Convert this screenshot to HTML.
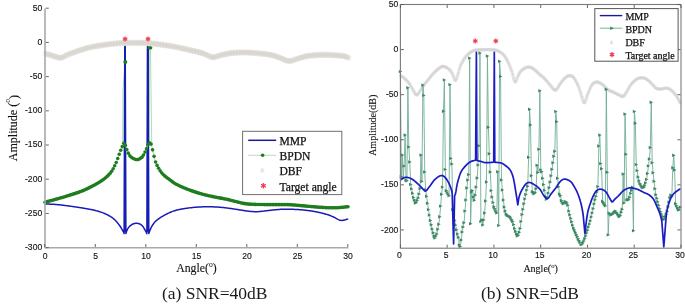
<!DOCTYPE html>
<html><head><meta charset="utf-8"><style>
html,body{margin:0;padding:0;background:#fff;}
svg{display:block;will-change:transform;}
text{stroke:#111;stroke-width:0.12px;}
.lg text{stroke-width:0.25px;}
.cap text{stroke:none;}
</style></head><body>
<svg width="685" height="304" viewBox="0 0 685 304">
<rect width="685" height="304" fill="#fff"/>
<path d="M122.6,143 L123.0,90 L125.2,62.2 L125.6,146 M149.2,143 L149.8,47.8 L150.4,47.8 L151.8,146" stroke="#a8d8a8" stroke-width="0.9" fill="none"/>
<path d="M45.00,203.90 L45.70,203.94 L46.40,203.98 L47.10,204.01 L47.80,204.04 L48.50,204.08 L49.20,204.11 L49.90,204.14 L50.60,204.17 L51.30,204.21 L52.00,204.24 L52.70,204.28 L53.40,204.32 L54.10,204.36 L54.80,204.41 L55.50,204.46 L56.20,204.51 L56.90,204.57 L57.60,204.64 L58.30,204.70 L59.00,204.77 L59.70,204.85 L60.40,204.93 L61.10,205.00 L61.80,205.09 L62.50,205.17 L63.20,205.26 L63.90,205.34 L64.60,205.43 L65.30,205.52 L66.00,205.62 L66.70,205.71 L67.40,205.80 L68.10,205.90 L68.80,205.99 L69.50,206.09 L70.20,206.19 L70.90,206.28 L71.60,206.38 L72.30,206.48 L73.00,206.57 L73.70,206.67 L74.40,206.77 L75.10,206.87 L75.80,206.97 L76.50,207.08 L77.20,207.18 L77.90,207.29 L78.60,207.40 L79.30,207.50 L80.00,207.62 L80.70,207.73 L81.40,207.84 L82.10,207.96 L82.80,208.08 L83.50,208.20 L84.20,208.32 L84.90,208.44 L85.60,208.56 L86.30,208.68 L87.00,208.80 L87.70,208.92 L88.40,209.04 L89.10,209.16 L89.80,209.29 L90.50,209.42 L91.20,209.56 L91.90,209.70 L92.60,209.84 L93.30,209.99 L94.00,210.15 L94.70,210.31 L95.40,210.48 L96.10,210.67 L96.80,210.86 L97.50,211.05 L98.20,211.25 L98.90,211.46 L99.60,211.68 L100.30,211.90 L101.00,212.14 L101.70,212.38 L102.40,212.63 L103.10,212.90 L103.80,213.17 L104.50,213.46 L105.20,213.76 L105.90,214.08 L106.60,214.41 L107.30,214.75 L108.00,215.11 L108.70,215.49 L109.40,215.89 L110.10,216.31 L110.80,216.75 L111.50,217.22 L112.20,217.72 L112.90,218.24 L113.60,218.80 L114.30,219.38 L115.00,220.00 L115.70,220.68 L116.40,221.44 L117.10,222.28 L117.80,223.17 L118.50,224.10 L119.20,225.06 L119.90,226.04 L120.60,227.03 L121.30,228.12 L122.00,229.29 L122.70,230.52 L123.40,231.80 L124.10,233.60 L124.80,46.30 L125.20,46.30 L125.90,233.60 L126.60,231.28 L127.30,229.59 L128.00,228.37 L128.70,227.37 L129.40,226.55 L130.10,225.87 L130.80,225.30 L131.50,224.80 L132.20,224.37 L132.90,224.01 L133.60,223.73 L134.30,223.52 L135.00,223.38 L135.70,223.32 L136.40,223.30 L137.10,223.32 L137.80,223.40 L138.50,223.55 L139.20,223.77 L139.90,224.05 L140.60,224.39 L141.30,224.85 L142.00,225.45 L142.70,226.23 L143.40,227.16 L144.10,228.29 L144.80,229.62 L145.50,230.94 L146.20,232.27 L146.90,233.60 L147.60,46.30 L148.10,46.30 L148.80,233.60 L149.50,231.62 L150.20,229.74 L150.90,228.13 L151.60,226.71 L152.30,225.51 L153.00,224.45 L153.70,223.49 L154.40,222.62 L155.10,221.83 L155.80,221.11 L156.50,220.47 L157.20,219.88 L157.90,219.34 L158.60,218.82 L159.30,218.32 L160.00,217.85 L160.70,217.39 L161.40,216.96 L162.10,216.54 L162.80,216.13 L163.50,215.74 L164.20,215.34 L164.90,214.96 L165.60,214.59 L166.30,214.22 L167.00,213.86 L167.70,213.51 L168.40,213.18 L169.10,212.85 L169.80,212.53 L170.50,212.23 L171.20,211.94 L171.90,211.67 L172.60,211.41 L173.30,211.16 L174.00,210.92 L174.70,210.70 L175.40,210.48 L176.10,210.28 L176.80,210.09 L177.50,209.92 L178.20,209.76 L178.90,209.61 L179.60,209.48 L180.30,209.34 L181.00,209.21 L181.70,209.09 L182.40,208.96 L183.10,208.84 L183.80,208.72 L184.50,208.60 L185.20,208.48 L185.90,208.37 L186.60,208.26 L187.30,208.16 L188.00,208.06 L188.70,207.96 L189.40,207.87 L190.10,207.79 L190.80,207.71 L191.50,207.63 L192.20,207.56 L192.90,207.49 L193.60,207.42 L194.30,207.36 L195.00,207.30 L195.70,207.24 L196.40,207.19 L197.10,207.13 L197.80,207.09 L198.50,207.04 L199.20,207.00 L199.90,206.96 L200.60,206.92 L201.30,206.89 L202.00,206.86 L202.70,206.83 L203.40,206.81 L204.10,206.79 L204.80,206.78 L205.50,206.78 L206.20,206.77 L206.90,206.77 L207.60,206.77 L208.30,206.78 L209.00,206.79 L209.70,206.80 L210.40,206.81 L211.10,206.82 L211.80,206.83 L212.50,206.85 L213.20,206.87 L213.90,206.89 L214.60,206.92 L215.30,206.95 L216.00,206.98 L216.70,207.01 L217.40,207.05 L218.10,207.10 L218.80,207.15 L219.50,207.20 L220.20,207.26 L220.90,207.32 L221.60,207.39 L222.30,207.46 L223.00,207.53 L223.70,207.61 L224.40,207.69 L225.10,207.77 L225.80,207.86 L226.50,207.94 L227.20,208.03 L227.90,208.12 L228.60,208.21 L229.30,208.31 L230.00,208.40 L230.70,208.50 L231.40,208.59 L232.10,208.70 L232.80,208.80 L233.50,208.91 L234.20,209.01 L234.90,209.12 L235.60,209.23 L236.30,209.34 L237.00,209.46 L237.70,209.57 L238.40,209.68 L239.10,209.79 L239.80,209.89 L240.50,210.00 L241.20,210.11 L241.90,210.22 L242.60,210.33 L243.30,210.45 L244.00,210.57 L244.70,210.68 L245.40,210.80 L246.10,210.91 L246.80,211.01 L247.50,211.11 L248.20,211.21 L248.90,211.29 L249.60,211.36 L250.30,211.43 L251.00,211.48 L251.70,211.53 L252.40,211.57 L253.10,211.61 L253.80,211.64 L254.50,211.66 L255.20,211.67 L255.90,211.68 L256.60,211.67 L257.30,211.66 L258.00,211.64 L258.70,211.61 L259.40,211.56 L260.10,211.51 L260.80,211.44 L261.50,211.37 L262.20,211.29 L262.90,211.21 L263.60,211.12 L264.30,211.02 L265.00,210.93 L265.70,210.83 L266.40,210.73 L267.10,210.64 L267.80,210.55 L268.50,210.46 L269.20,210.38 L269.90,210.31 L270.60,210.24 L271.30,210.17 L272.00,210.10 L272.70,210.04 L273.40,209.97 L274.10,209.90 L274.80,209.83 L275.50,209.77 L276.20,209.70 L276.90,209.64 L277.60,209.58 L278.30,209.53 L279.00,209.47 L279.70,209.42 L280.40,209.37 L281.10,209.33 L281.80,209.29 L282.50,209.25 L283.20,209.22 L283.90,209.19 L284.60,209.17 L285.30,209.16 L286.00,209.15 L286.70,209.15 L287.40,209.16 L288.10,209.17 L288.80,209.18 L289.50,209.20 L290.20,209.22 L290.90,209.24 L291.60,209.26 L292.30,209.29 L293.00,209.32 L293.70,209.35 L294.40,209.38 L295.10,209.40 L295.80,209.43 L296.50,209.47 L297.20,209.50 L297.90,209.54 L298.60,209.59 L299.30,209.63 L300.00,209.69 L300.70,209.74 L301.40,209.80 L302.10,209.87 L302.80,209.94 L303.50,210.01 L304.20,210.09 L304.90,210.17 L305.60,210.25 L306.30,210.33 L307.00,210.41 L307.70,210.49 L308.40,210.58 L309.10,210.67 L309.80,210.76 L310.50,210.86 L311.20,210.96 L311.90,211.07 L312.60,211.18 L313.30,211.29 L314.00,211.42 L314.70,211.54 L315.40,211.68 L316.10,211.81 L316.80,211.96 L317.50,212.10 L318.20,212.25 L318.90,212.41 L319.60,212.56 L320.30,212.73 L321.00,212.89 L321.70,213.06 L322.40,213.24 L323.10,213.42 L323.80,213.60 L324.50,213.79 L325.20,213.98 L325.90,214.18 L326.60,214.38 L327.30,214.59 L328.00,214.81 L328.70,215.05 L329.40,215.30 L330.10,215.56 L330.80,215.84 L331.50,216.12 L332.20,216.42 L332.90,216.72 L333.60,217.02 L334.30,217.34 L335.00,217.71 L335.70,218.11 L336.40,218.53 L337.10,218.94 L337.80,219.31 L338.50,219.63 L339.20,219.92 L339.90,220.17 L340.60,220.34 L341.30,220.42 L342.00,220.41 L342.70,220.34 L343.40,220.22 L344.10,220.08 L344.80,219.93 L345.50,219.76 L346.20,219.55 L346.90,219.33 L347.60,219.11 L348.30,218.90" fill="none" stroke="#1a1ab8" stroke-width="1.5" stroke-linejoin="round"/>
<path d="M125.0,232V47M147.85,232V47" stroke="#1420b0" stroke-width="2"/>
<path d="M45.00,202.20 L45.70,202.01 L46.40,201.82 L47.10,201.64 L47.80,201.45 L48.50,201.26 L49.20,201.08 L49.90,200.89 L50.60,200.70 L51.30,200.52 L52.00,200.33 L52.70,200.14 L53.40,199.95 L54.10,199.76 L54.80,199.57 L55.50,199.38 L56.20,199.18 L56.90,198.99 L57.60,198.79 L58.30,198.59 L59.00,198.39 L59.70,198.19 L60.40,197.99 L61.10,197.78 L61.80,197.58 L62.50,197.38 L63.20,197.17 L63.90,196.97 L64.60,196.76 L65.30,196.55 L66.00,196.34 L66.70,196.13 L67.40,195.91 L68.10,195.70 L68.80,195.48 L69.50,195.26 L70.20,195.03 L70.90,194.81 L71.60,194.58 L72.30,194.36 L73.00,194.14 L73.70,193.91 L74.40,193.69 L75.10,193.46 L75.80,193.23 L76.50,193.00 L77.20,192.77 L77.90,192.53 L78.60,192.29 L79.30,192.04 L80.00,191.78 L80.70,191.52 L81.40,191.25 L82.10,190.98 L82.80,190.69 L83.50,190.40 L84.20,190.10 L84.90,189.79 L85.60,189.47 L86.30,189.15 L87.00,188.82 L87.70,188.49 L88.40,188.15 L89.10,187.80 L89.80,187.45 L90.50,187.09 L91.20,186.73 L91.90,186.36 L92.60,185.99 L93.30,185.62 L94.00,185.24 L94.70,184.86 L95.40,184.47 L96.10,184.08 L96.80,183.69 L97.50,183.29 L98.20,182.89 L98.90,182.47 L99.60,182.05 L100.30,181.61 L101.00,181.16 L101.70,180.69 L102.40,180.20 L103.10,179.69 L103.80,179.16 L104.50,178.60 L105.20,178.03 L105.90,177.45 L106.60,176.84 L107.30,176.22 L108.00,175.55 L108.70,174.85 L109.40,174.09 L110.10,173.28 L110.80,172.40 L111.50,171.44 L112.20,170.37 L112.90,169.19 L113.60,167.92 L114.30,166.57 L115.00,165.15 L115.70,163.66 L116.40,162.07 L117.10,160.25 L117.80,158.28 L118.50,156.27 L119.20,154.30 L119.90,152.46 L120.60,150.64 L121.30,148.87 L122.00,147.20 L122.70,145.59 L123.40,143.94 L124.10,143.17 L124.80,144.05 L125.50,145.93 L126.20,147.95 L126.90,149.70 L127.60,151.50 L128.30,153.11 L129.00,154.40 L129.70,155.53 L130.40,156.44 L131.10,157.07 L131.80,157.56 L132.50,158.01 L133.20,158.41 L133.90,158.76 L134.60,159.06 L135.30,159.30 L136.00,159.48 L136.70,159.59 L137.40,159.60 L138.10,159.48 L138.80,159.24 L139.50,158.91 L140.20,158.51 L140.90,158.07 L141.60,157.51 L142.30,156.75 L143.00,155.80 L143.70,154.70 L144.40,153.35 L145.10,151.86 L145.80,150.35 L146.50,148.73 L147.20,146.90 L147.90,144.77 L148.60,143.30 L149.30,142.91 L150.00,143.03 L150.70,143.62 L151.40,144.71 L152.10,147.58 L152.80,150.86 L153.50,153.87 L154.20,156.87 L154.90,159.97 L155.60,162.05 L156.30,163.68 L157.00,165.17 L157.70,166.55 L158.40,167.83 L159.10,169.03 L159.80,170.17 L160.50,171.22 L161.20,172.19 L161.90,173.07 L162.60,173.87 L163.30,174.60 L164.00,175.27 L164.70,175.89 L165.40,176.48 L166.10,177.04 L166.80,177.57 L167.50,178.09 L168.20,178.60 L168.90,179.11 L169.60,179.63 L170.30,180.15 L171.00,180.69 L171.70,181.22 L172.40,181.75 L173.10,182.26 L173.80,182.76 L174.50,183.23 L175.20,183.68 L175.90,184.08 L176.60,184.46 L177.30,184.81 L178.00,185.16 L178.70,185.50 L179.40,185.83 L180.10,186.15 L180.80,186.47 L181.50,186.78 L182.20,187.09 L182.90,187.39 L183.60,187.68 L184.30,187.97 L185.00,188.25 L185.70,188.53 L186.40,188.81 L187.10,189.08 L187.80,189.35 L188.50,189.62 L189.20,189.89 L189.90,190.15 L190.60,190.41 L191.30,190.66 L192.00,190.91 L192.70,191.16 L193.40,191.40 L194.10,191.63 L194.80,191.86 L195.50,192.09 L196.20,192.32 L196.90,192.54 L197.60,192.75 L198.30,192.97 L199.00,193.17 L199.70,193.38 L200.40,193.58 L201.10,193.78 L201.80,193.98 L202.50,194.17 L203.20,194.36 L203.90,194.55 L204.60,194.73 L205.30,194.90 L206.00,195.07 L206.70,195.24 L207.40,195.40 L208.10,195.56 L208.80,195.72 L209.50,195.87 L210.20,196.02 L210.90,196.17 L211.60,196.32 L212.30,196.47 L213.00,196.61 L213.70,196.76 L214.40,196.91 L215.10,197.05 L215.80,197.20 L216.50,197.34 L217.20,197.48 L217.90,197.62 L218.60,197.75 L219.30,197.88 L220.00,198.00 L220.70,198.13 L221.40,198.25 L222.10,198.38 L222.80,198.51 L223.50,198.64 L224.20,198.77 L224.90,198.91 L225.60,199.05 L226.30,199.20 L227.00,199.36 L227.70,199.52 L228.40,199.69 L229.10,199.86 L229.80,200.03 L230.50,200.21 L231.20,200.39 L231.90,200.57 L232.60,200.76 L233.30,200.94 L234.00,201.11 L234.70,201.29 L235.40,201.46 L236.10,201.62 L236.80,201.79 L237.50,201.96 L238.20,202.14 L238.90,202.32 L239.60,202.49 L240.30,202.67 L241.00,202.84 L241.70,203.01 L242.40,203.17 L243.10,203.32 L243.80,203.45 L244.50,203.58 L245.20,203.69 L245.90,203.79 L246.60,203.87 L247.30,203.94 L248.00,204.01 L248.70,204.07 L249.40,204.12 L250.10,204.17 L250.80,204.21 L251.50,204.25 L252.20,204.28 L252.90,204.31 L253.60,204.33 L254.30,204.36 L255.00,204.38 L255.70,204.40 L256.40,204.41 L257.10,204.43 L257.80,204.45 L258.50,204.46 L259.20,204.48 L259.90,204.50 L260.60,204.52 L261.30,204.53 L262.00,204.54 L262.70,204.56 L263.40,204.57 L264.10,204.57 L264.80,204.58 L265.50,204.58 L266.20,204.59 L266.90,204.59 L267.60,204.59 L268.30,204.59 L269.00,204.59 L269.70,204.59 L270.40,204.59 L271.10,204.59 L271.80,204.59 L272.50,204.59 L273.20,204.59 L273.90,204.59 L274.60,204.60 L275.30,204.60 L276.00,204.60 L276.70,204.60 L277.40,204.60 L278.10,204.60 L278.80,204.60 L279.50,204.59 L280.20,204.59 L280.90,204.58 L281.60,204.58 L282.30,204.58 L283.00,204.58 L283.70,204.58 L284.40,204.58 L285.10,204.58 L285.80,204.59 L286.50,204.60 L287.20,204.62 L287.90,204.64 L288.60,204.66 L289.30,204.69 L290.00,204.72 L290.70,204.76 L291.40,204.80 L292.10,204.84 L292.80,204.89 L293.50,204.95 L294.20,205.00 L294.90,205.06 L295.60,205.12 L296.30,205.18 L297.00,205.25 L297.70,205.31 L298.40,205.38 L299.10,205.45 L299.80,205.52 L300.50,205.58 L301.20,205.65 L301.90,205.72 L302.60,205.79 L303.30,205.85 L304.00,205.91 L304.70,205.97 L305.40,206.03 L306.10,206.09 L306.80,206.15 L307.50,206.22 L308.20,206.28 L308.90,206.34 L309.60,206.40 L310.30,206.46 L311.00,206.53 L311.70,206.59 L312.40,206.65 L313.10,206.71 L313.80,206.77 L314.50,206.83 L315.20,206.89 L315.90,206.95 L316.60,207.00 L317.30,207.06 L318.00,207.11 L318.70,207.16 L319.40,207.21 L320.10,207.26 L320.80,207.32 L321.50,207.36 L322.20,207.41 L322.90,207.46 L323.60,207.51 L324.30,207.55 L325.00,207.59 L325.70,207.63 L326.40,207.67 L327.10,207.70 L327.80,207.73 L328.50,207.76 L329.20,207.78 L329.90,207.80 L330.60,207.81 L331.30,207.82 L332.00,207.82 L332.70,207.82 L333.40,207.81 L334.10,207.80 L334.80,207.79 L335.50,207.76 L336.20,207.74 L336.90,207.71 L337.60,207.68 L338.30,207.64 L339.00,207.59 L339.70,207.54 L340.40,207.49 L341.10,207.43 L341.80,207.36 L342.50,207.29 L343.20,207.22 L343.90,207.14 L344.60,207.06 L345.30,206.98 L346.00,206.90 L346.70,206.83 L347.40,206.75" fill="none" stroke="#a8d8a8" stroke-width="1" stroke-linejoin="round"/>
<g fill="#1f7d1f"><circle cx="45.00" cy="202.20" r="1.8"/><circle cx="46.52" cy="201.79" r="1.8"/><circle cx="48.03" cy="201.39" r="1.8"/><circle cx="49.55" cy="200.99" r="1.8"/><circle cx="51.06" cy="200.58" r="1.8"/><circle cx="52.58" cy="200.18" r="1.8"/><circle cx="54.09" cy="199.77" r="1.8"/><circle cx="55.61" cy="199.35" r="1.8"/><circle cx="57.12" cy="198.92" r="1.8"/><circle cx="58.64" cy="198.49" r="1.8"/><circle cx="60.15" cy="198.06" r="1.8"/><circle cx="61.67" cy="197.62" r="1.8"/><circle cx="63.18" cy="197.18" r="1.8"/><circle cx="64.70" cy="196.73" r="1.8"/><circle cx="66.21" cy="196.28" r="1.8"/><circle cx="67.73" cy="195.81" r="1.8"/><circle cx="69.24" cy="195.34" r="1.8"/><circle cx="70.76" cy="194.85" r="1.8"/><circle cx="72.27" cy="194.37" r="1.8"/><circle cx="73.79" cy="193.89" r="1.8"/><circle cx="75.30" cy="193.40" r="1.8"/><circle cx="76.82" cy="192.90" r="1.8"/><circle cx="78.33" cy="192.38" r="1.8"/><circle cx="79.85" cy="191.84" r="1.8"/><circle cx="81.36" cy="191.27" r="1.8"/><circle cx="82.88" cy="190.66" r="1.8"/><circle cx="84.39" cy="190.02" r="1.8"/><circle cx="85.91" cy="189.33" r="1.8"/><circle cx="87.42" cy="188.62" r="1.8"/><circle cx="88.94" cy="187.88" r="1.8"/><circle cx="90.45" cy="187.12" r="1.8"/><circle cx="91.97" cy="186.33" r="1.8"/><circle cx="93.48" cy="185.52" r="1.8"/><circle cx="95.00" cy="184.69" r="1.8"/><circle cx="96.51" cy="183.85" r="1.8"/><circle cx="98.03" cy="182.99" r="1.8"/><circle cx="99.54" cy="182.08" r="1.8"/><circle cx="101.06" cy="181.12" r="1.8"/><circle cx="102.57" cy="180.08" r="1.8"/><circle cx="104.09" cy="178.93" r="1.8"/><circle cx="105.60" cy="177.70" r="1.8"/><circle cx="107.12" cy="176.39" r="1.8"/><circle cx="108.63" cy="174.92" r="1.8"/><circle cx="110.15" cy="173.23" r="1.8"/><circle cx="111.66" cy="171.20" r="1.8"/><circle cx="113.18" cy="168.71" r="1.8"/><circle cx="114.69" cy="165.79" r="1.8"/><circle cx="116.21" cy="162.54" r="1.8"/><circle cx="117.72" cy="158.51" r="1.8"/><circle cx="119.24" cy="154.21" r="1.8"/><circle cx="120.75" cy="150.26" r="1.8"/><circle cx="122.27" cy="146.60" r="1.8"/><circle cx="123.78" cy="143.34" r="1.8"/><circle cx="125.30" cy="145.33" r="1.8"/><circle cx="126.81" cy="149.47" r="1.8"/><circle cx="128.33" cy="153.16" r="1.8"/><circle cx="129.84" cy="155.73" r="1.8"/><circle cx="131.35" cy="157.26" r="1.8"/><circle cx="132.87" cy="158.23" r="1.8"/><circle cx="134.38" cy="158.97" r="1.8"/><circle cx="135.90" cy="159.45" r="1.8"/><circle cx="137.41" cy="159.60" r="1.8"/><circle cx="138.93" cy="159.19" r="1.8"/><circle cx="140.44" cy="158.36" r="1.8"/><circle cx="141.96" cy="157.14" r="1.8"/><circle cx="143.47" cy="155.08" r="1.8"/><circle cx="144.99" cy="152.10" r="1.8"/><circle cx="146.50" cy="148.71" r="1.8"/><circle cx="148.02" cy="144.44" r="1.8"/><circle cx="149.53" cy="142.90" r="1.8"/><circle cx="151.05" cy="144.09" r="1.8"/><circle cx="152.56" cy="149.85" r="1.8"/><circle cx="154.08" cy="156.34" r="1.8"/><circle cx="155.59" cy="162.03" r="1.8"/><circle cx="157.11" cy="165.39" r="1.8"/><circle cx="158.62" cy="168.22" r="1.8"/><circle cx="160.14" cy="170.69" r="1.8"/><circle cx="161.65" cy="172.77" r="1.8"/><circle cx="163.17" cy="174.47" r="1.8"/><circle cx="164.68" cy="175.88" r="1.8"/><circle cx="166.20" cy="177.11" r="1.8"/><circle cx="167.71" cy="178.25" r="1.8"/><circle cx="169.23" cy="179.35" r="1.8"/><circle cx="170.74" cy="180.49" r="1.8"/><circle cx="172.26" cy="181.64" r="1.8"/><circle cx="173.77" cy="182.74" r="1.8"/><circle cx="175.29" cy="183.73" r="1.8"/><circle cx="176.80" cy="184.56" r="1.8"/><circle cx="178.32" cy="185.31" r="1.8"/><circle cx="179.83" cy="186.03" r="1.8"/><circle cx="181.35" cy="186.72" r="1.8"/><circle cx="182.86" cy="187.37" r="1.8"/><circle cx="184.38" cy="188.00" r="1.8"/><circle cx="185.89" cy="188.61" r="1.8"/><circle cx="187.41" cy="189.20" r="1.8"/><circle cx="188.92" cy="189.78" r="1.8"/><circle cx="190.44" cy="190.35" r="1.8"/><circle cx="191.95" cy="190.90" r="1.8"/><circle cx="193.47" cy="191.42" r="1.8"/><circle cx="194.98" cy="191.92" r="1.8"/><circle cx="196.50" cy="192.41" r="1.8"/><circle cx="198.01" cy="192.88" r="1.8"/><circle cx="199.53" cy="193.33" r="1.8"/><circle cx="201.04" cy="193.77" r="1.8"/><circle cx="202.56" cy="194.19" r="1.8"/><circle cx="204.07" cy="194.59" r="1.8"/><circle cx="205.59" cy="194.97" r="1.8"/><circle cx="207.10" cy="195.33" r="1.8"/><circle cx="208.62" cy="195.68" r="1.8"/><circle cx="210.13" cy="196.01" r="1.8"/><circle cx="211.65" cy="196.33" r="1.8"/><circle cx="213.16" cy="196.65" r="1.8"/><circle cx="214.68" cy="196.96" r="1.8"/><circle cx="216.19" cy="197.28" r="1.8"/><circle cx="217.71" cy="197.58" r="1.8"/><circle cx="219.22" cy="197.86" r="1.8"/><circle cx="220.74" cy="198.14" r="1.8"/><circle cx="222.25" cy="198.41" r="1.8"/><circle cx="223.77" cy="198.69" r="1.8"/><circle cx="225.28" cy="198.99" r="1.8"/><circle cx="226.80" cy="199.31" r="1.8"/><circle cx="228.31" cy="199.67" r="1.8"/><circle cx="229.83" cy="200.04" r="1.8"/><circle cx="231.34" cy="200.43" r="1.8"/><circle cx="232.86" cy="200.82" r="1.8"/><circle cx="234.37" cy="201.21" r="1.8"/><circle cx="235.89" cy="201.57" r="1.8"/><circle cx="237.40" cy="201.94" r="1.8"/><circle cx="238.92" cy="202.32" r="1.8"/><circle cx="240.43" cy="202.70" r="1.8"/><circle cx="241.95" cy="203.06" r="1.8"/><circle cx="243.46" cy="203.39" r="1.8"/><circle cx="244.98" cy="203.66" r="1.8"/><circle cx="246.49" cy="203.86" r="1.8"/><circle cx="248.01" cy="204.01" r="1.8"/><circle cx="249.52" cy="204.13" r="1.8"/><circle cx="251.04" cy="204.22" r="1.8"/><circle cx="252.55" cy="204.30" r="1.8"/><circle cx="254.07" cy="204.35" r="1.8"/><circle cx="255.58" cy="204.39" r="1.8"/><circle cx="257.10" cy="204.43" r="1.8"/><circle cx="258.61" cy="204.46" r="1.8"/><circle cx="260.13" cy="204.50" r="1.8"/><circle cx="261.64" cy="204.54" r="1.8"/><circle cx="263.16" cy="204.56" r="1.8"/><circle cx="264.67" cy="204.58" r="1.8"/><circle cx="266.19" cy="204.59" r="1.8"/><circle cx="267.70" cy="204.59" r="1.8"/><circle cx="269.22" cy="204.59" r="1.8"/><circle cx="270.73" cy="204.59" r="1.8"/><circle cx="272.25" cy="204.59" r="1.8"/><circle cx="273.76" cy="204.59" r="1.8"/><circle cx="275.28" cy="204.60" r="1.8"/><circle cx="276.79" cy="204.60" r="1.8"/><circle cx="278.31" cy="204.60" r="1.8"/><circle cx="279.82" cy="204.59" r="1.8"/><circle cx="281.34" cy="204.58" r="1.8"/><circle cx="282.85" cy="204.58" r="1.8"/><circle cx="284.37" cy="204.58" r="1.8"/><circle cx="285.88" cy="204.59" r="1.8"/><circle cx="287.40" cy="204.62" r="1.8"/><circle cx="288.91" cy="204.67" r="1.8"/><circle cx="290.43" cy="204.74" r="1.8"/><circle cx="291.94" cy="204.83" r="1.8"/><circle cx="293.46" cy="204.94" r="1.8"/><circle cx="294.97" cy="205.07" r="1.8"/><circle cx="296.49" cy="205.20" r="1.8"/><circle cx="298.00" cy="205.34" r="1.8"/><circle cx="299.52" cy="205.49" r="1.8"/><circle cx="301.03" cy="205.64" r="1.8"/><circle cx="302.55" cy="205.78" r="1.8"/><circle cx="304.06" cy="205.92" r="1.8"/><circle cx="305.58" cy="206.05" r="1.8"/><circle cx="307.09" cy="206.18" r="1.8"/><circle cx="308.61" cy="206.31" r="1.8"/><circle cx="310.12" cy="206.45" r="1.8"/><circle cx="311.64" cy="206.58" r="1.8"/><circle cx="313.15" cy="206.71" r="1.8"/><circle cx="314.67" cy="206.84" r="1.8"/><circle cx="316.18" cy="206.97" r="1.8"/><circle cx="317.70" cy="207.09" r="1.8"/><circle cx="319.21" cy="207.20" r="1.8"/><circle cx="320.73" cy="207.31" r="1.8"/><circle cx="322.24" cy="207.42" r="1.8"/><circle cx="323.76" cy="207.52" r="1.8"/><circle cx="325.27" cy="207.61" r="1.8"/><circle cx="326.79" cy="207.69" r="1.8"/><circle cx="328.30" cy="207.75" r="1.8"/><circle cx="329.82" cy="207.80" r="1.8"/><circle cx="331.33" cy="207.82" r="1.8"/><circle cx="332.85" cy="207.82" r="1.8"/><circle cx="334.36" cy="207.80" r="1.8"/><circle cx="335.88" cy="207.75" r="1.8"/><circle cx="337.39" cy="207.69" r="1.8"/><circle cx="338.91" cy="207.60" r="1.8"/><circle cx="340.42" cy="207.49" r="1.8"/><circle cx="341.94" cy="207.35" r="1.8"/><circle cx="343.45" cy="207.19" r="1.8"/><circle cx="344.97" cy="207.02" r="1.8"/><circle cx="346.48" cy="206.85" r="1.8"/><circle cx="348.00" cy="206.68" r="1.8"/></g>
<g fill="#1f7a1f"><circle cx="125.3" cy="62.1" r="2"/><circle cx="149.3" cy="47.8" r="1.7"/><circle cx="150.7" cy="47.8" r="1.7"/></g>
<path d="M45.00,53.50 L46.01,53.79 L47.02,54.08 L48.03,54.37 L49.04,54.66 L50.05,54.95 L51.06,55.24 L52.07,55.52 L53.08,55.83 L54.09,56.18 L55.10,56.55 L56.11,56.92 L57.12,57.25 L58.13,57.52 L59.14,57.71 L60.15,57.80 L61.16,57.74 L62.17,57.47 L63.18,57.02 L64.19,56.48 L65.20,55.91 L66.21,55.36 L67.22,54.91 L68.23,54.51 L69.24,54.11 L70.25,53.73 L71.26,53.35 L72.27,52.98 L73.28,52.62 L74.29,52.25 L75.30,51.89 L76.31,51.52 L77.32,51.16 L78.33,50.81 L79.34,50.46 L80.35,50.12 L81.36,49.80 L82.37,49.49 L83.38,49.19 L84.39,48.89 L85.40,48.60 L86.41,48.33 L87.42,48.05 L88.43,47.79 L89.44,47.54 L90.45,47.30 L91.46,47.06 L92.47,46.84 L93.48,46.64 L94.49,46.44 L95.50,46.26 L96.51,46.08 L97.52,45.91 L98.53,45.74 L99.54,45.57 L100.55,45.41 L101.56,45.25 L102.57,45.09 L103.58,44.94 L104.59,44.79 L105.60,44.64 L106.61,44.51 L107.62,44.38 L108.63,44.25 L109.64,44.14 L110.65,44.02 L111.66,43.91 L112.67,43.80 L113.68,43.69 L114.69,43.59 L115.70,43.49 L116.71,43.39 L117.72,43.30 L118.73,43.22 L119.74,43.14 L120.75,43.07 L121.76,43.02 L122.77,42.97 L123.78,42.93 L124.79,42.89 L125.80,42.86 L126.81,42.84 L127.82,42.82 L128.83,42.81 L129.84,42.80 L130.85,42.79 L131.86,42.79 L132.87,42.79 L133.88,42.79 L134.89,42.79 L135.90,42.79 L136.91,42.80 L137.92,42.80 L138.93,42.81 L139.94,42.83 L140.95,42.86 L141.96,42.89 L142.97,42.94 L143.98,42.98 L144.99,43.04 L146.00,43.10 L147.01,43.17 L148.02,43.24 L149.03,43.31 L150.04,43.39 L151.05,43.47 L152.06,43.56 L153.07,43.66 L154.08,43.75 L155.09,43.86 L156.10,43.96 L157.11,44.08 L158.12,44.20 L159.13,44.33 L160.14,44.46 L161.15,44.60 L162.16,44.74 L163.17,44.88 L164.18,45.03 L165.19,45.18 L166.20,45.33 L167.21,45.48 L168.22,45.64 L169.23,45.80 L170.24,45.97 L171.25,46.14 L172.26,46.31 L173.27,46.49 L174.28,46.68 L175.29,46.88 L176.30,47.08 L177.31,47.29 L178.32,47.50 L179.33,47.72 L180.34,47.94 L181.35,48.16 L182.36,48.38 L183.37,48.61 L184.38,48.84 L185.39,49.07 L186.40,49.31 L187.41,49.55 L188.42,49.79 L189.43,50.03 L190.44,50.27 L191.45,50.50 L192.46,50.73 L193.47,50.95 L194.48,51.17 L195.49,51.40 L196.50,51.62 L197.51,51.86 L198.52,52.11 L199.53,52.37 L200.54,52.66 L201.55,52.97 L202.56,53.32 L203.57,53.68 L204.58,54.06 L205.59,54.44 L206.60,54.85 L207.61,55.34 L208.62,55.87 L209.63,56.38 L210.64,56.83 L211.65,57.15 L212.66,57.30 L213.67,57.27 L214.68,57.09 L215.69,56.81 L216.70,56.47 L217.71,56.10 L218.72,55.76 L219.73,55.46 L220.74,55.23 L221.75,55.00 L222.76,54.77 L223.77,54.54 L224.78,54.31 L225.79,54.08 L226.80,53.87 L227.81,53.67 L228.82,53.49 L229.83,53.32 L230.84,53.18 L231.85,53.06 L232.86,52.96 L233.87,52.86 L234.88,52.78 L235.89,52.71 L236.90,52.65 L237.91,52.59 L238.92,52.55 L239.93,52.52 L240.94,52.50 L241.95,52.48 L242.96,52.48 L243.97,52.48 L244.98,52.49 L245.99,52.51 L247.00,52.53 L248.01,52.57 L249.02,52.61 L250.03,52.66 L251.04,52.72 L252.05,52.79 L253.06,52.86 L254.07,52.93 L255.08,53.01 L256.09,53.10 L257.10,53.19 L258.11,53.28 L259.12,53.38 L260.13,53.48 L261.14,53.58 L262.15,53.68 L263.16,53.79 L264.17,53.90 L265.18,54.03 L266.19,54.16 L267.20,54.30 L268.21,54.46 L269.22,54.63 L270.23,54.82 L271.24,55.03 L272.25,55.26 L273.26,55.52 L274.27,55.82 L275.28,56.14 L276.29,56.48 L277.30,56.84 L278.31,57.20 L279.32,57.56 L280.33,57.92 L281.34,58.33 L282.35,58.80 L283.36,59.28 L284.37,59.76 L285.38,60.20 L286.39,60.57 L287.40,60.84 L288.41,60.99 L289.42,61.00 L290.43,60.89 L291.44,60.70 L292.45,60.43 L293.46,60.11 L294.47,59.76 L295.48,59.40 L296.49,59.06 L297.50,58.74 L298.51,58.46 L299.52,58.17 L300.53,57.85 L301.54,57.53 L302.55,57.21 L303.56,56.91 L304.57,56.62 L305.58,56.36 L306.59,56.15 L307.60,55.99 L308.61,55.85 L309.62,55.73 L310.63,55.62 L311.64,55.51 L312.65,55.42 L313.66,55.34 L314.67,55.26 L315.68,55.19 L316.69,55.13 L317.70,55.07 L318.71,55.02 L319.72,54.98 L320.73,54.94 L321.74,54.90 L322.75,54.87 L323.76,54.84 L324.77,54.81 L325.78,54.79 L326.79,54.79 L327.80,54.82 L328.81,54.86 L329.82,54.92 L330.83,54.98 L331.84,55.06 L332.85,55.14 L333.86,55.22 L334.87,55.29 L335.88,55.36 L336.89,55.41 L337.90,55.47 L338.91,55.53 L339.92,55.61 L340.93,55.71 L341.94,55.83 L342.95,55.99 L343.96,56.21 L344.97,56.48 L345.98,56.80 L346.99,57.14 L348.00,57.48" fill="none" stroke="#eae8e3" stroke-width="5.2" stroke-linejoin="round"/>
<path d="M45.00,50.40v6.2M42.70,52.00l4.6,3M42.70,55.00l4.6,-3M46.52,50.84v6.2M44.22,52.44l4.6,3M44.22,55.44l4.6,-3M48.04,51.28v6.2M45.74,52.88l4.6,3M45.74,55.88l4.6,-3M49.56,51.71v6.2M47.26,53.31l4.6,3M47.26,56.31l4.6,-3M51.08,52.14v6.2M48.78,53.74l4.6,3M48.78,56.74l4.6,-3M52.60,52.58v6.2M50.30,54.18l4.6,3M50.30,57.18l4.6,-3M54.12,53.10v6.2M51.82,54.70l4.6,3M51.82,57.70l4.6,-3M55.64,53.65v6.2M53.34,55.25l4.6,3M53.34,58.25l4.6,-3M57.16,54.16v6.2M54.86,55.76l4.6,3M54.86,58.76l4.6,-3M58.68,54.54v6.2M56.38,56.14l4.6,3M56.38,59.14l4.6,-3M60.20,54.70v6.2M57.90,56.30l4.6,3M57.90,59.30l4.6,-3M61.72,54.51v6.2M59.42,56.11l4.6,3M59.42,59.11l4.6,-3M63.24,53.89v6.2M60.94,55.49l4.6,3M60.94,58.49l4.6,-3M64.76,53.06v6.2M62.46,54.66l4.6,3M62.46,57.66l4.6,-3M66.28,52.23v6.2M63.98,53.83l4.6,3M63.98,56.83l4.6,-3M67.80,51.58v6.2M65.50,53.18l4.6,3M65.50,56.18l4.6,-3M69.32,50.98v6.2M67.02,52.58l4.6,3M67.02,55.58l4.6,-3M70.84,50.41v6.2M68.54,52.01l4.6,3M68.54,55.01l4.6,-3M72.36,49.85v6.2M70.06,51.45l4.6,3M70.06,54.45l4.6,-3M73.88,49.30v6.2M71.58,50.90l4.6,3M71.58,53.90l4.6,-3M75.40,48.75v6.2M73.10,50.35l4.6,3M73.10,53.35l4.6,-3M76.92,48.20v6.2M74.62,49.80l4.6,3M74.62,52.80l4.6,-3M78.44,47.67v6.2M76.14,49.27l4.6,3M76.14,52.27l4.6,-3M79.96,47.15v6.2M77.66,48.75l4.6,3M77.66,51.75l4.6,-3M81.48,46.66v6.2M79.18,48.26l4.6,3M79.18,51.26l4.6,-3M83.00,46.20v6.2M80.70,47.80l4.6,3M80.70,50.80l4.6,-3M84.52,45.75v6.2M82.22,47.35l4.6,3M82.22,50.35l4.6,-3M86.04,45.33v6.2M83.74,46.93l4.6,3M83.74,49.93l4.6,-3M87.56,44.92v6.2M85.26,46.52l4.6,3M85.26,49.52l4.6,-3M89.08,44.53v6.2M86.78,46.13l4.6,3M86.78,49.13l4.6,-3M90.60,44.16v6.2M88.30,45.76l4.6,3M88.30,48.76l4.6,-3M92.12,43.82v6.2M89.82,45.42l4.6,3M89.82,48.42l4.6,-3M93.64,43.51v6.2M91.34,45.11l4.6,3M91.34,48.11l4.6,-3M95.16,43.22v6.2M92.86,44.82l4.6,3M92.86,47.82l4.6,-3M96.68,42.95v6.2M94.38,44.55l4.6,3M94.38,47.55l4.6,-3M98.20,42.69v6.2M95.90,44.29l4.6,3M95.90,47.29l4.6,-3M99.72,42.45v6.2M97.42,44.05l4.6,3M97.42,47.05l4.6,-3M101.24,42.20v6.2M98.94,43.80l4.6,3M98.94,46.80l4.6,-3M102.76,41.96v6.2M100.46,43.56l4.6,3M100.46,46.56l4.6,-3M104.28,41.73v6.2M101.98,43.33l4.6,3M101.98,46.33l4.6,-3M105.80,41.52v6.2M103.50,43.12l4.6,3M103.50,46.12l4.6,-3M107.32,41.31v6.2M105.02,42.91l4.6,3M105.02,45.91l4.6,-3M108.84,41.13v6.2M106.54,42.73l4.6,3M106.54,45.73l4.6,-3M110.36,40.96v6.2M108.06,42.56l4.6,3M108.06,45.56l4.6,-3M111.88,40.79v6.2M109.58,42.39l4.6,3M109.58,45.39l4.6,-3M113.40,40.62v6.2M111.10,42.22l4.6,3M111.10,45.22l4.6,-3M114.92,40.46v6.2M112.62,42.06l4.6,3M112.62,45.06l4.6,-3M116.44,40.31v6.2M114.14,41.91l4.6,3M114.14,44.91l4.6,-3M117.96,40.18v6.2M115.66,41.78l4.6,3M115.66,44.78l4.6,-3M119.48,40.06v6.2M117.18,41.66l4.6,3M117.18,44.66l4.6,-3M121.00,39.96v6.2M118.70,41.56l4.6,3M118.70,44.56l4.6,-3M122.52,39.88v6.2M120.22,41.48l4.6,3M120.22,44.48l4.6,-3M124.04,39.82v6.2M121.74,41.42l4.6,3M121.74,44.42l4.6,-3M125.56,39.77v6.2M123.26,41.37l4.6,3M123.26,44.37l4.6,-3M127.08,39.73v6.2M124.78,41.33l4.6,3M124.78,44.33l4.6,-3M128.60,39.71v6.2M126.30,41.31l4.6,3M126.30,44.31l4.6,-3M130.12,39.69v6.2M127.82,41.29l4.6,3M127.82,44.29l4.6,-3M131.64,39.69v6.2M129.34,41.29l4.6,3M129.34,44.29l4.6,-3M133.16,39.69v6.2M130.86,41.29l4.6,3M130.86,44.29l4.6,-3M134.68,39.69v6.2M132.38,41.29l4.6,3M132.38,44.29l4.6,-3M136.20,39.69v6.2M133.90,41.29l4.6,3M133.90,44.29l4.6,-3M137.72,39.70v6.2M135.42,41.30l4.6,3M135.42,44.30l4.6,-3M139.24,39.72v6.2M136.94,41.32l4.6,3M136.94,44.32l4.6,-3M140.76,39.75v6.2M138.46,41.35l4.6,3M138.46,44.35l4.6,-3M142.28,39.81v6.2M139.98,41.41l4.6,3M139.98,44.41l4.6,-3M143.80,39.88v6.2M141.50,41.48l4.6,3M141.50,44.48l4.6,-3M145.32,39.96v6.2M143.02,41.56l4.6,3M143.02,44.56l4.6,-3M146.84,40.05v6.2M144.54,41.65l4.6,3M144.54,44.65l4.6,-3M148.36,40.16v6.2M146.06,41.76l4.6,3M146.06,44.76l4.6,-3M149.88,40.28v6.2M147.58,41.88l4.6,3M147.58,44.88l4.6,-3M151.40,40.40v6.2M149.10,42.00l4.6,3M149.10,45.00l4.6,-3M152.92,40.54v6.2M150.62,42.14l4.6,3M150.62,45.14l4.6,-3M154.44,40.69v6.2M152.14,42.29l4.6,3M152.14,45.29l4.6,-3M155.96,40.85v6.2M153.66,42.45l4.6,3M153.66,45.45l4.6,-3M157.48,41.02v6.2M155.18,42.62l4.6,3M155.18,45.62l4.6,-3M159.00,41.21v6.2M156.70,42.81l4.6,3M156.70,45.81l4.6,-3M160.52,41.41v6.2M158.22,43.01l4.6,3M158.22,46.01l4.6,-3M162.04,41.62v6.2M159.74,43.22l4.6,3M159.74,46.22l4.6,-3M163.56,41.84v6.2M161.26,43.44l4.6,3M161.26,46.44l4.6,-3M165.08,42.06v6.2M162.78,43.66l4.6,3M162.78,46.66l4.6,-3M166.60,42.29v6.2M164.30,43.89l4.6,3M164.30,46.89l4.6,-3M168.12,42.52v6.2M165.82,44.12l4.6,3M165.82,47.12l4.6,-3M169.64,42.77v6.2M167.34,44.37l4.6,3M167.34,47.37l4.6,-3M171.16,43.02v6.2M168.86,44.62l4.6,3M168.86,47.62l4.6,-3M172.68,43.29v6.2M170.38,44.89l4.6,3M170.38,47.89l4.6,-3M174.20,43.57v6.2M171.90,45.17l4.6,3M171.90,48.17l4.6,-3M175.72,43.86v6.2M173.42,45.46l4.6,3M173.42,48.46l4.6,-3M177.24,44.17v6.2M174.94,45.77l4.6,3M174.94,48.77l4.6,-3M178.76,44.49v6.2M176.46,46.09l4.6,3M176.46,49.09l4.6,-3M180.28,44.82v6.2M177.98,46.42l4.6,3M177.98,49.42l4.6,-3M181.80,45.16v6.2M179.50,46.76l4.6,3M179.50,49.76l4.6,-3M183.32,45.50v6.2M181.02,47.10l4.6,3M181.02,50.10l4.6,-3M184.84,45.85v6.2M182.54,47.45l4.6,3M182.54,50.45l4.6,-3M186.36,46.20v6.2M184.06,47.80l4.6,3M184.06,50.80l4.6,-3M187.88,46.56v6.2M185.58,48.16l4.6,3M185.58,51.16l4.6,-3M189.40,46.92v6.2M187.10,48.52l4.6,3M187.10,51.52l4.6,-3M190.92,47.28v6.2M188.62,48.88l4.6,3M188.62,51.88l4.6,-3M192.44,47.63v6.2M190.14,49.23l4.6,3M190.14,52.23l4.6,-3M193.96,47.96v6.2M191.66,49.56l4.6,3M191.66,52.56l4.6,-3M195.48,48.29v6.2M193.18,49.89l4.6,3M193.18,52.89l4.6,-3M197.00,48.64v6.2M194.70,50.24l4.6,3M194.70,53.24l4.6,-3M198.52,49.01v6.2M196.22,50.61l4.6,3M196.22,53.61l4.6,-3M200.04,49.41v6.2M197.74,51.01l4.6,3M197.74,54.01l4.6,-3M201.56,49.88v6.2M199.26,51.48l4.6,3M199.26,54.48l4.6,-3M203.08,50.40v6.2M200.78,52.00l4.6,3M200.78,55.00l4.6,-3M204.60,50.97v6.2M202.30,52.57l4.6,3M202.30,55.57l4.6,-3M206.12,51.55v6.2M203.82,53.15l4.6,3M203.82,56.15l4.6,-3M207.64,52.25v6.2M205.34,53.85l4.6,3M205.34,56.85l4.6,-3M209.16,53.05v6.2M206.86,54.65l4.6,3M206.86,57.65l4.6,-3M210.68,53.74v6.2M208.38,55.34l4.6,3M208.38,58.34l4.6,-3M212.20,54.16v6.2M209.90,55.76l4.6,3M209.90,58.76l4.6,-3M213.72,54.16v6.2M211.42,55.76l4.6,3M211.42,58.76l4.6,-3M215.24,53.84v6.2M212.94,55.44l4.6,3M212.94,58.44l4.6,-3M216.76,53.35v6.2M214.46,54.95l4.6,3M214.46,57.95l4.6,-3M218.28,52.80v6.2M215.98,54.40l4.6,3M215.98,57.40l4.6,-3M219.80,52.35v6.2M217.50,53.95l4.6,3M217.50,56.95l4.6,-3M221.32,52.00v6.2M219.02,53.60l4.6,3M219.02,56.60l4.6,-3M222.84,51.65v6.2M220.54,53.25l4.6,3M220.54,56.25l4.6,-3M224.36,51.30v6.2M222.06,52.90l4.6,3M222.06,55.90l4.6,-3M225.88,50.96v6.2M223.58,52.56l4.6,3M223.58,55.56l4.6,-3M227.40,50.65v6.2M225.10,52.25l4.6,3M225.10,55.25l4.6,-3M228.92,50.37v6.2M226.62,51.97l4.6,3M226.62,54.97l4.6,-3M230.44,50.13v6.2M228.14,51.73l4.6,3M228.14,54.73l4.6,-3M231.96,49.95v6.2M229.66,51.55l4.6,3M229.66,54.55l4.6,-3M233.48,49.80v6.2M231.18,51.40l4.6,3M231.18,54.40l4.6,-3M235.00,49.67v6.2M232.70,51.27l4.6,3M232.70,54.27l4.6,-3M236.52,49.57v6.2M234.22,51.17l4.6,3M234.22,54.17l4.6,-3M238.04,49.49v6.2M235.74,51.09l4.6,3M235.74,54.09l4.6,-3M239.56,49.43v6.2M237.26,51.03l4.6,3M237.26,54.03l4.6,-3M241.08,49.39v6.2M238.78,50.99l4.6,3M238.78,53.99l4.6,-3M242.60,49.38v6.2M240.30,50.98l4.6,3M240.30,53.98l4.6,-3M244.12,49.38v6.2M241.82,50.98l4.6,3M241.82,53.98l4.6,-3M245.64,49.40v6.2M243.34,51.00l4.6,3M243.34,54.00l4.6,-3M247.16,49.44v6.2M244.86,51.04l4.6,3M244.86,54.04l4.6,-3M248.68,49.50v6.2M246.38,51.10l4.6,3M246.38,54.10l4.6,-3M250.20,49.57v6.2M247.90,51.17l4.6,3M247.90,54.17l4.6,-3M251.72,49.66v6.2M249.42,51.26l4.6,3M249.42,54.26l4.6,-3M253.24,49.77v6.2M250.94,51.37l4.6,3M250.94,54.37l4.6,-3M254.76,49.89v6.2M252.46,51.49l4.6,3M252.46,54.49l4.6,-3M256.28,50.02v6.2M253.98,51.62l4.6,3M253.98,54.62l4.6,-3M257.80,50.16v6.2M255.50,51.76l4.6,3M255.50,54.76l4.6,-3M259.32,50.30v6.2M257.02,51.90l4.6,3M257.02,54.90l4.6,-3M260.84,50.45v6.2M258.54,52.05l4.6,3M258.54,55.05l4.6,-3M262.36,50.61v6.2M260.06,52.21l4.6,3M260.06,55.21l4.6,-3M263.88,50.77v6.2M261.58,52.37l4.6,3M261.58,55.37l4.6,-3M265.40,50.95v6.2M263.10,52.55l4.6,3M263.10,55.55l4.6,-3M266.92,51.16v6.2M264.62,52.76l4.6,3M264.62,55.76l4.6,-3M268.44,51.40v6.2M266.14,53.00l4.6,3M266.14,56.00l4.6,-3M269.96,51.67v6.2M267.66,53.27l4.6,3M267.66,56.27l4.6,-3M271.48,51.98v6.2M269.18,53.58l4.6,3M269.18,56.58l4.6,-3M273.00,52.35v6.2M270.70,53.95l4.6,3M270.70,56.95l4.6,-3M274.52,52.80v6.2M272.22,54.40l4.6,3M272.22,57.40l4.6,-3M276.04,53.30v6.2M273.74,54.90l4.6,3M273.74,57.90l4.6,-3M277.56,53.83v6.2M275.26,55.43l4.6,3M275.26,58.43l4.6,-3M279.08,54.37v6.2M276.78,55.97l4.6,3M276.78,58.97l4.6,-3M280.60,54.92v6.2M278.30,56.52l4.6,3M278.30,59.52l4.6,-3M282.12,55.59v6.2M279.82,57.19l4.6,3M279.82,60.19l4.6,-3M283.64,56.32v6.2M281.34,57.92l4.6,3M281.34,60.92l4.6,-3M285.16,57.01v6.2M282.86,58.61l4.6,3M282.86,61.61l4.6,-3M286.68,57.56v6.2M284.38,59.16l4.6,3M284.38,62.16l4.6,-3M288.20,57.87v6.2M285.90,59.47l4.6,3M285.90,62.47l4.6,-3M289.72,57.88v6.2M287.42,59.48l4.6,3M287.42,62.48l4.6,-3M291.24,57.64v6.2M288.94,59.24l4.6,3M288.94,62.24l4.6,-3M292.76,57.23v6.2M290.46,58.83l4.6,3M290.46,61.83l4.6,-3M294.28,56.73v6.2M291.98,58.33l4.6,3M291.98,61.33l4.6,-3M295.80,56.19v6.2M293.50,57.79l4.6,3M293.50,60.79l4.6,-3M297.32,55.69v6.2M295.02,57.29l4.6,3M295.02,60.29l4.6,-3M298.84,55.27v6.2M296.54,56.87l4.6,3M296.54,59.87l4.6,-3M300.36,54.81v6.2M298.06,56.41l4.6,3M298.06,59.41l4.6,-3M301.88,54.32v6.2M299.58,55.92l4.6,3M299.58,58.92l4.6,-3M303.40,53.85v6.2M301.10,55.45l4.6,3M301.10,58.45l4.6,-3M304.92,53.43v6.2M302.62,55.03l4.6,3M302.62,58.03l4.6,-3M306.44,53.08v6.2M304.14,54.68l4.6,3M304.14,57.68l4.6,-3M307.96,52.84v6.2M305.66,54.44l4.6,3M305.66,57.44l4.6,-3M309.48,52.65v6.2M307.18,54.25l4.6,3M307.18,57.25l4.6,-3M311.00,52.48v6.2M308.70,54.08l4.6,3M308.70,57.08l4.6,-3M312.52,52.33v6.2M310.22,53.93l4.6,3M310.22,56.93l4.6,-3M314.04,52.21v6.2M311.74,53.81l4.6,3M311.74,56.81l4.6,-3M315.56,52.10v6.2M313.26,53.70l4.6,3M313.26,56.70l4.6,-3M317.08,52.01v6.2M314.78,53.61l4.6,3M314.78,56.61l4.6,-3M318.60,51.93v6.2M316.30,53.53l4.6,3M316.30,56.53l4.6,-3M320.12,51.86v6.2M317.82,53.46l4.6,3M317.82,56.46l4.6,-3M321.64,51.81v6.2M319.34,53.41l4.6,3M319.34,56.41l4.6,-3M323.16,51.76v6.2M320.86,53.36l4.6,3M320.86,56.36l4.6,-3M324.68,51.72v6.2M322.38,53.32l4.6,3M322.38,56.32l4.6,-3M326.20,51.69v6.2M323.90,53.29l4.6,3M323.90,56.29l4.6,-3M327.72,51.71v6.2M325.42,53.31l4.6,3M325.42,56.31l4.6,-3M329.24,51.78v6.2M326.94,53.38l4.6,3M326.94,56.38l4.6,-3M330.76,51.88v6.2M328.46,53.48l4.6,3M328.46,56.48l4.6,-3M332.28,51.99v6.2M329.98,53.59l4.6,3M329.98,56.59l4.6,-3M333.80,52.11v6.2M331.50,53.71l4.6,3M331.50,56.71l4.6,-3M335.32,52.22v6.2M333.02,53.82l4.6,3M333.02,56.82l4.6,-3M336.84,52.31v6.2M334.54,53.91l4.6,3M334.54,56.91l4.6,-3M338.36,52.40v6.2M336.06,54.00l4.6,3M336.06,57.00l4.6,-3M339.88,52.51v6.2M337.58,54.11l4.6,3M337.58,57.11l4.6,-3M341.40,52.66v6.2M339.10,54.26l4.6,3M339.10,57.26l4.6,-3M342.92,52.89v6.2M340.62,54.49l4.6,3M340.62,57.49l4.6,-3M344.44,53.23v6.2M342.14,54.83l4.6,3M342.14,57.83l4.6,-3M345.96,53.70v6.2M343.66,55.30l4.6,3M343.66,58.30l4.6,-3M347.48,54.21v6.2M345.18,55.81l4.6,3M345.18,58.81l4.6,-3M349.00,54.70v6.2M346.70,56.30l4.6,3M346.70,59.30l4.6,-3" stroke="#d8d6cf" stroke-width="0.75" fill="none"/>
<path d="M125.10,36.40L125.10,41.60M127.35,37.70L122.85,40.30M127.35,40.30L122.85,37.70" stroke="#ee4050" stroke-width="1.3" fill="none"/><circle cx="125.1" cy="39.0" r="1.2" fill="#ee4050"/>
<path d="M148.00,36.40L148.00,41.60M150.25,37.70L145.75,40.30M150.25,40.30L145.75,37.70" stroke="#ee4050" stroke-width="1.3" fill="none"/><circle cx="148.0" cy="39.0" r="1.2" fill="#ee4050"/>
<path d="M45,8.4 V247.8 H348.4" fill="none" stroke="#a9a9a9" stroke-width="1.6"/>
<path d="M45.8,8.19h3M45.8,42.40h3M45.8,76.61h3M45.8,110.82h3M45.8,145.03h3M45.8,179.24h3M45.8,213.45h3M45.8,247.66h3M44.80,247h0v-3M95.30,247h0v-3M145.80,247h0v-3M196.30,247h0v-3M246.80,247h0v-3M297.30,247h0v-3M347.80,247h0v-3" stroke="#555" stroke-width="0.9" fill="none"/>
<g font-family="Liberation Sans, sans-serif" font-size="8.6" fill="#111"><text x="42.2" y="10.59" text-anchor="end">50</text><text x="42.2" y="44.80" text-anchor="end">0</text><text x="42.2" y="79.01" text-anchor="end">-50</text><text x="42.2" y="113.22" text-anchor="end">-100</text><text x="42.2" y="147.43" text-anchor="end">-150</text><text x="42.2" y="181.64" text-anchor="end">-200</text><text x="42.2" y="215.85" text-anchor="end">-250</text><text x="42.2" y="250.06" text-anchor="end">-300</text><text x="45.10" y="259.1" text-anchor="middle">0</text><text x="95.60" y="259.1" text-anchor="middle">5</text><text x="146.10" y="259.1" text-anchor="middle">10</text><text x="196.60" y="259.1" text-anchor="middle">15</text><text x="247.10" y="259.1" text-anchor="middle">20</text><text x="297.60" y="259.1" text-anchor="middle">25</text><text x="348.10" y="259.1" text-anchor="middle">30</text></g>
<text transform="translate(17.4,161.2) rotate(-90)" font-family="Liberation Serif, serif" font-size="12" fill="#111">Amplitude (<tspan font-size="7.8" dy="-7.0" style="stroke-width:0.05px">o</tspan><tspan dy="7.2">)</tspan></text>
<text x="176.2" y="271.7" font-family="Liberation Serif, serif" font-size="11.8" fill="#111">Angle(<tspan font-size="7.6" dy="-5.2" style="stroke-width:0.05px">o</tspan><tspan dy="5.2">)</tspan></text>
<rect x="242.6" y="131.3" width="99.2" height="63.3" fill="#fff" stroke="#707070" stroke-width="1"/>
<path d="M248.2,140.3H276.2" stroke="#1818a0" stroke-width="1.5"/>
<path d="M248.2,155.3H276.2" stroke="#b0dab0" stroke-width="0.9"/><circle cx="262.6" cy="155.3" r="1.8" fill="#1f7a1f"/>
<path d="M262.3,168v5M260.3,169.2l4,2.6M260.3,171.8l4,-2.6" stroke="#e0dfdc" stroke-width="1"/>
<path d="M263.40,182.90L263.40,188.50M265.82,184.30L260.98,187.10M265.82,187.10L260.98,184.30" stroke="#ee4050" stroke-width="1.3" fill="none"/><circle cx="263.4" cy="185.7" r="1.2" fill="#ee4050"/>
<g class="lg" font-family="Liberation Serif, serif" font-size="11.6" fill="#111"><text x="279.5" y="144.6">MMP</text><text x="279.5" y="160">BPDN</text><text x="279.5" y="175.3">DBF</text><text x="279.5" y="190.6">Target angle</text></g>
<path d="M400.40,75.70 L401.34,76.26 L402.27,76.80 L403.21,77.39 L404.14,78.12 L405.08,78.95 L406.02,79.84 L406.95,80.81 L407.89,81.86 L408.82,83.02 L409.76,84.39 L410.70,85.90 L411.63,87.42 L412.57,88.96 L413.50,90.73 L414.44,92.51 L415.38,94.00 L416.31,94.91 L417.25,94.87 L418.18,93.84 L419.12,92.35 L420.06,90.92 L420.99,89.58 L421.93,88.14 L422.86,86.68 L423.80,85.28 L424.74,84.03 L425.67,82.89 L426.61,81.78 L427.54,80.61 L428.48,79.40 L429.42,78.18 L430.35,76.98 L431.29,75.83 L432.22,74.75 L433.16,73.72 L434.10,72.75 L435.03,71.81 L435.97,70.93 L436.90,70.08 L437.84,69.28 L438.78,68.52 L439.71,67.82 L440.65,67.21 L441.58,66.71 L442.52,66.41 L443.46,66.37 L444.39,66.64 L445.33,67.01 L446.26,67.44 L447.20,67.96 L448.14,68.57 L449.07,69.30 L450.01,70.23 L450.94,71.46 L451.88,72.93 L452.82,74.65 L453.75,77.21 L454.69,79.61 L455.62,80.47 L456.56,78.76 L457.50,75.65 L458.43,72.57 L459.37,69.06 L460.30,66.19 L461.24,64.00 L462.18,62.17 L463.11,60.58 L464.05,59.12 L464.98,57.78 L465.92,56.57 L466.86,55.49 L467.79,54.53 L468.73,53.70 L469.66,52.95 L470.60,52.26 L471.54,51.64 L472.47,51.12 L473.41,50.71 L474.34,50.40 L475.28,50.17 L476.22,50.01 L477.15,49.90 L478.09,49.83 L479.02,49.79 L479.96,49.76 L480.90,49.73 L481.83,49.70 L482.77,49.67 L483.70,49.65 L484.64,49.64 L485.58,49.62 L486.51,49.62 L487.45,49.62 L488.38,49.62 L489.32,49.64 L490.26,49.66 L491.19,49.69 L492.13,49.73 L493.06,49.78 L494.00,49.85 L494.94,49.98 L495.87,50.19 L496.81,50.48 L497.74,50.87 L498.68,51.34 L499.62,51.84 L500.55,52.39 L501.49,53.01 L502.42,53.75 L503.36,54.64 L504.30,55.71 L505.23,57.01 L506.17,58.53 L507.10,60.23 L508.04,62.08 L508.98,64.13 L509.91,66.39 L510.85,68.83 L511.78,71.39 L512.72,74.48 L513.66,78.25 L514.59,81.24 L515.53,81.95 L516.46,80.16 L517.40,77.43 L518.34,75.37 L519.27,73.59 L520.21,72.01 L521.14,70.86 L522.08,69.99 L523.02,69.25 L523.95,68.62 L524.89,68.09 L525.82,67.66 L526.76,67.31 L527.70,67.10 L528.63,67.04 L529.57,67.12 L530.50,67.33 L531.44,67.69 L532.38,68.20 L533.31,68.85 L534.25,69.57 L535.18,70.34 L536.12,71.10 L537.06,71.91 L537.99,72.80 L538.93,73.70 L539.86,74.58 L540.80,75.39 L541.74,76.15 L542.67,76.90 L543.61,77.69 L544.54,78.54 L545.48,79.51 L546.42,80.61 L547.35,81.79 L548.29,82.98 L549.22,84.13 L550.16,85.17 L551.10,86.30 L552.03,87.51 L552.97,88.65 L553.90,89.57 L554.84,90.12 L555.78,90.13 L556.71,89.33 L557.65,87.94 L558.58,86.28 L559.52,84.68 L560.46,83.41 L561.39,82.17 L562.33,80.94 L563.26,79.78 L564.20,78.75 L565.14,77.89 L566.07,77.16 L567.01,76.55 L567.94,76.07 L568.88,75.74 L569.82,75.60 L570.75,75.68 L571.69,76.00 L572.62,76.59 L573.56,77.48 L574.50,78.67 L575.43,80.18 L576.37,81.93 L577.30,83.88 L578.24,85.96 L579.18,88.43 L580.11,91.32 L581.05,94.14 L581.98,97.22 L582.92,100.38 L583.86,102.59 L584.79,102.67 L585.73,100.16 L586.66,96.93 L587.60,94.54 L588.54,92.20 L589.47,89.90 L590.41,87.74 L591.34,85.82 L592.28,84.29 L593.22,83.38 L594.15,82.86 L595.09,82.46 L596.02,82.15 L596.96,82.04 L597.90,82.17 L598.83,82.50 L599.77,82.93 L600.70,83.44 L601.64,84.03 L602.58,84.68 L603.51,85.43 L604.45,86.35 L605.38,87.37 L606.32,88.38 L607.26,89.26 L608.19,89.92 L609.13,90.43 L610.06,90.84 L611.00,91.19 L611.94,91.54 L612.87,91.94 L613.81,92.40 L614.74,92.87 L615.68,93.36 L616.62,93.83 L617.55,94.29 L618.49,94.74 L619.42,95.29 L620.36,95.84 L621.30,96.29 L622.23,96.53 L623.17,96.42 L624.10,95.66 L625.04,94.44 L625.98,93.04 L626.91,91.51 L627.85,89.80 L628.78,88.05 L629.72,86.44 L630.66,85.05 L631.59,83.84 L632.53,82.77 L633.46,81.85 L634.40,81.00 L635.34,80.21 L636.27,79.51 L637.21,78.91 L638.14,78.44 L639.08,78.10 L640.02,77.87 L640.95,77.76 L641.89,77.75 L642.82,77.83 L643.76,78.01 L644.70,78.31 L645.63,78.71 L646.57,79.23 L647.50,79.85 L648.44,80.60 L649.38,81.45 L650.31,82.35 L651.25,83.27 L652.18,84.18 L653.12,85.21 L654.06,86.31 L654.99,87.33 L655.93,88.10 L656.86,88.55 L657.80,88.82 L658.74,88.96 L659.67,89.00 L660.61,89.00 L661.54,88.97 L662.48,88.83 L663.42,88.61 L664.35,88.39 L665.29,88.23 L666.22,88.18 L667.16,88.29 L668.10,88.49 L669.03,88.81 L669.97,89.28 L670.90,89.92 L671.84,90.71 L672.78,91.59 L673.71,92.55 L674.65,93.62 L675.58,94.80 L676.52,96.09 L677.46,97.56 L678.39,99.34 L679.33,101.30 L680.26,103.29" fill="none" stroke="#ececec" stroke-width="3.4" stroke-linejoin="round"/>
<path d="M400.4,74.1v3.2M399.0,74.9l2.8,1.6M399.0,76.5l2.8,-1.6M401.3,74.7v3.2M399.9,75.5l2.8,1.6M399.9,77.1l2.8,-1.6M402.3,75.2v3.2M400.9,76.0l2.8,1.6M400.9,77.6l2.8,-1.6M403.2,75.8v3.2M401.8,76.6l2.8,1.6M401.8,78.2l2.8,-1.6M404.1,76.5v3.2M402.7,77.3l2.8,1.6M402.7,78.9l2.8,-1.6M405.1,77.4v3.2M403.7,78.2l2.8,1.6M403.7,79.8l2.8,-1.6M406.0,78.2v3.2M404.6,79.0l2.8,1.6M404.6,80.6l2.8,-1.6M407.0,79.2v3.2M405.6,80.0l2.8,1.6M405.6,81.6l2.8,-1.6M407.9,80.3v3.2M406.5,81.1l2.8,1.6M406.5,82.7l2.8,-1.6M408.8,81.4v3.2M407.4,82.2l2.8,1.6M407.4,83.8l2.8,-1.6M409.8,82.8v3.2M408.4,83.6l2.8,1.6M408.4,85.2l2.8,-1.6M410.7,84.3v3.2M409.3,85.1l2.8,1.6M409.3,86.7l2.8,-1.6M411.6,85.8v3.2M410.2,86.6l2.8,1.6M410.2,88.2l2.8,-1.6M412.6,87.4v3.2M411.2,88.2l2.8,1.6M411.2,89.8l2.8,-1.6M413.5,89.1v3.2M412.1,89.9l2.8,1.6M412.1,91.5l2.8,-1.6M414.4,90.9v3.2M413.0,91.7l2.8,1.6M413.0,93.3l2.8,-1.6M415.4,92.4v3.2M414.0,93.2l2.8,1.6M414.0,94.8l2.8,-1.6M416.3,93.3v3.2M414.9,94.1l2.8,1.6M414.9,95.7l2.8,-1.6M417.2,93.3v3.2M415.8,94.1l2.8,1.6M415.8,95.7l2.8,-1.6M418.2,92.2v3.2M416.8,93.0l2.8,1.6M416.8,94.6l2.8,-1.6M419.1,90.8v3.2M417.7,91.6l2.8,1.6M417.7,93.2l2.8,-1.6M420.1,89.3v3.2M418.7,90.1l2.8,1.6M418.7,91.7l2.8,-1.6M421.0,88.0v3.2M419.6,88.8l2.8,1.6M419.6,90.4l2.8,-1.6M421.9,86.5v3.2M420.5,87.3l2.8,1.6M420.5,88.9l2.8,-1.6M422.9,85.1v3.2M421.5,85.9l2.8,1.6M421.5,87.5l2.8,-1.6M423.8,83.7v3.2M422.4,84.5l2.8,1.6M422.4,86.1l2.8,-1.6M424.7,82.4v3.2M423.3,83.2l2.8,1.6M423.3,84.8l2.8,-1.6M425.7,81.3v3.2M424.3,82.1l2.8,1.6M424.3,83.7l2.8,-1.6M426.6,80.2v3.2M425.2,81.0l2.8,1.6M425.2,82.6l2.8,-1.6M427.5,79.0v3.2M426.1,79.8l2.8,1.6M426.1,81.4l2.8,-1.6M428.5,77.8v3.2M427.1,78.6l2.8,1.6M427.1,80.2l2.8,-1.6M429.4,76.6v3.2M428.0,77.4l2.8,1.6M428.0,79.0l2.8,-1.6M430.4,75.4v3.2M429.0,76.2l2.8,1.6M429.0,77.8l2.8,-1.6M431.3,74.2v3.2M429.9,75.0l2.8,1.6M429.9,76.6l2.8,-1.6M432.2,73.1v3.2M430.8,73.9l2.8,1.6M430.8,75.5l2.8,-1.6M433.2,72.1v3.2M431.8,72.9l2.8,1.6M431.8,74.5l2.8,-1.6M434.1,71.1v3.2M432.7,71.9l2.8,1.6M432.7,73.5l2.8,-1.6M435.0,70.2v3.2M433.6,71.0l2.8,1.6M433.6,72.6l2.8,-1.6M436.0,69.3v3.2M434.6,70.1l2.8,1.6M434.6,71.7l2.8,-1.6M436.9,68.5v3.2M435.5,69.3l2.8,1.6M435.5,70.9l2.8,-1.6M437.8,67.7v3.2M436.4,68.5l2.8,1.6M436.4,70.1l2.8,-1.6M438.8,66.9v3.2M437.4,67.7l2.8,1.6M437.4,69.3l2.8,-1.6M439.7,66.2v3.2M438.3,67.0l2.8,1.6M438.3,68.6l2.8,-1.6M440.6,65.6v3.2M439.2,66.4l2.8,1.6M439.2,68.0l2.8,-1.6M441.6,65.1v3.2M440.2,65.9l2.8,1.6M440.2,67.5l2.8,-1.6M442.5,64.8v3.2M441.1,65.6l2.8,1.6M441.1,67.2l2.8,-1.6M443.5,64.8v3.2M442.1,65.6l2.8,1.6M442.1,67.2l2.8,-1.6M444.4,65.0v3.2M443.0,65.8l2.8,1.6M443.0,67.4l2.8,-1.6M445.3,65.4v3.2M443.9,66.2l2.8,1.6M443.9,67.8l2.8,-1.6M446.3,65.8v3.2M444.9,66.6l2.8,1.6M444.9,68.2l2.8,-1.6M447.2,66.4v3.2M445.8,67.2l2.8,1.6M445.8,68.8l2.8,-1.6M448.1,67.0v3.2M446.7,67.8l2.8,1.6M446.7,69.4l2.8,-1.6M449.1,67.7v3.2M447.7,68.5l2.8,1.6M447.7,70.1l2.8,-1.6M450.0,68.6v3.2M448.6,69.4l2.8,1.6M448.6,71.0l2.8,-1.6M450.9,69.9v3.2M449.5,70.7l2.8,1.6M449.5,72.3l2.8,-1.6M451.9,71.3v3.2M450.5,72.1l2.8,1.6M450.5,73.7l2.8,-1.6M452.8,73.0v3.2M451.4,73.8l2.8,1.6M451.4,75.4l2.8,-1.6M453.8,75.6v3.2M452.4,76.4l2.8,1.6M452.4,78.0l2.8,-1.6M454.7,78.0v3.2M453.3,78.8l2.8,1.6M453.3,80.4l2.8,-1.6M455.6,78.9v3.2M454.2,79.7l2.8,1.6M454.2,81.3l2.8,-1.6M456.6,77.2v3.2M455.2,78.0l2.8,1.6M455.2,79.6l2.8,-1.6M457.5,74.0v3.2M456.1,74.8l2.8,1.6M456.1,76.4l2.8,-1.6M458.4,71.0v3.2M457.0,71.8l2.8,1.6M457.0,73.4l2.8,-1.6M459.4,67.5v3.2M458.0,68.3l2.8,1.6M458.0,69.9l2.8,-1.6M460.3,64.6v3.2M458.9,65.4l2.8,1.6M458.9,67.0l2.8,-1.6M461.2,62.4v3.2M459.8,63.2l2.8,1.6M459.8,64.8l2.8,-1.6M462.2,60.6v3.2M460.8,61.4l2.8,1.6M460.8,63.0l2.8,-1.6M463.1,59.0v3.2M461.7,59.8l2.8,1.6M461.7,61.4l2.8,-1.6M464.0,57.5v3.2M462.6,58.3l2.8,1.6M462.6,59.9l2.8,-1.6M465.0,56.2v3.2M463.6,57.0l2.8,1.6M463.6,58.6l2.8,-1.6M465.9,55.0v3.2M464.5,55.8l2.8,1.6M464.5,57.4l2.8,-1.6M466.9,53.9v3.2M465.5,54.7l2.8,1.6M465.5,56.3l2.8,-1.6M467.8,52.9v3.2M466.4,53.7l2.8,1.6M466.4,55.3l2.8,-1.6M468.7,52.1v3.2M467.3,52.9l2.8,1.6M467.3,54.5l2.8,-1.6M469.7,51.3v3.2M468.3,52.1l2.8,1.6M468.3,53.7l2.8,-1.6M470.6,50.7v3.2M469.2,51.5l2.8,1.6M469.2,53.1l2.8,-1.6M471.5,50.0v3.2M470.1,50.8l2.8,1.6M470.1,52.4l2.8,-1.6M472.5,49.5v3.2M471.1,50.3l2.8,1.6M471.1,51.9l2.8,-1.6M473.4,49.1v3.2M472.0,49.9l2.8,1.6M472.0,51.5l2.8,-1.6M474.3,48.8v3.2M472.9,49.6l2.8,1.6M472.9,51.2l2.8,-1.6M475.3,48.6v3.2M473.9,49.4l2.8,1.6M473.9,51.0l2.8,-1.6M476.2,48.4v3.2M474.8,49.2l2.8,1.6M474.8,50.8l2.8,-1.6M477.2,48.3v3.2M475.8,49.1l2.8,1.6M475.8,50.7l2.8,-1.6M478.1,48.2v3.2M476.7,49.0l2.8,1.6M476.7,50.6l2.8,-1.6M479.0,48.2v3.2M477.6,49.0l2.8,1.6M477.6,50.6l2.8,-1.6M480.0,48.2v3.2M478.6,49.0l2.8,1.6M478.6,50.6l2.8,-1.6M480.9,48.1v3.2M479.5,48.9l2.8,1.6M479.5,50.5l2.8,-1.6M481.8,48.1v3.2M480.4,48.9l2.8,1.6M480.4,50.5l2.8,-1.6M482.8,48.1v3.2M481.4,48.9l2.8,1.6M481.4,50.5l2.8,-1.6M483.7,48.1v3.2M482.3,48.9l2.8,1.6M482.3,50.5l2.8,-1.6M484.6,48.0v3.2M483.2,48.8l2.8,1.6M483.2,50.4l2.8,-1.6M485.6,48.0v3.2M484.2,48.8l2.8,1.6M484.2,50.4l2.8,-1.6M486.5,48.0v3.2M485.1,48.8l2.8,1.6M485.1,50.4l2.8,-1.6M487.4,48.0v3.2M486.0,48.8l2.8,1.6M486.0,50.4l2.8,-1.6M488.4,48.0v3.2M487.0,48.8l2.8,1.6M487.0,50.4l2.8,-1.6M489.3,48.0v3.2M487.9,48.8l2.8,1.6M487.9,50.4l2.8,-1.6M490.3,48.1v3.2M488.9,48.9l2.8,1.6M488.9,50.5l2.8,-1.6M491.2,48.1v3.2M489.8,48.9l2.8,1.6M489.8,50.5l2.8,-1.6M492.1,48.1v3.2M490.7,48.9l2.8,1.6M490.7,50.5l2.8,-1.6M493.1,48.2v3.2M491.7,49.0l2.8,1.6M491.7,50.6l2.8,-1.6M494.0,48.2v3.2M492.6,49.0l2.8,1.6M492.6,50.6l2.8,-1.6M494.9,48.4v3.2M493.5,49.2l2.8,1.6M493.5,50.8l2.8,-1.6M495.9,48.6v3.2M494.5,49.4l2.8,1.6M494.5,51.0l2.8,-1.6M496.8,48.9v3.2M495.4,49.7l2.8,1.6M495.4,51.3l2.8,-1.6M497.7,49.3v3.2M496.3,50.1l2.8,1.6M496.3,51.7l2.8,-1.6M498.7,49.7v3.2M497.3,50.5l2.8,1.6M497.3,52.1l2.8,-1.6M499.6,50.2v3.2M498.2,51.0l2.8,1.6M498.2,52.6l2.8,-1.6M500.6,50.8v3.2M499.2,51.6l2.8,1.6M499.2,53.2l2.8,-1.6M501.5,51.4v3.2M500.1,52.2l2.8,1.6M500.1,53.8l2.8,-1.6M502.4,52.2v3.2M501.0,53.0l2.8,1.6M501.0,54.6l2.8,-1.6M503.4,53.0v3.2M502.0,53.8l2.8,1.6M502.0,55.4l2.8,-1.6M504.3,54.1v3.2M502.9,54.9l2.8,1.6M502.9,56.5l2.8,-1.6M505.2,55.4v3.2M503.8,56.2l2.8,1.6M503.8,57.8l2.8,-1.6M506.2,56.9v3.2M504.8,57.7l2.8,1.6M504.8,59.3l2.8,-1.6M507.1,58.6v3.2M505.7,59.4l2.8,1.6M505.7,61.0l2.8,-1.6M508.0,60.5v3.2M506.6,61.3l2.8,1.6M506.6,62.9l2.8,-1.6M509.0,62.5v3.2M507.6,63.3l2.8,1.6M507.6,64.9l2.8,-1.6M509.9,64.8v3.2M508.5,65.6l2.8,1.6M508.5,67.2l2.8,-1.6M510.8,67.2v3.2M509.4,68.0l2.8,1.6M509.4,69.6l2.8,-1.6M511.8,69.8v3.2M510.4,70.6l2.8,1.6M510.4,72.2l2.8,-1.6M512.7,72.9v3.2M511.3,73.7l2.8,1.6M511.3,75.3l2.8,-1.6M513.7,76.6v3.2M512.3,77.4l2.8,1.6M512.3,79.0l2.8,-1.6M514.6,79.6v3.2M513.2,80.4l2.8,1.6M513.2,82.0l2.8,-1.6M515.5,80.4v3.2M514.1,81.2l2.8,1.6M514.1,82.8l2.8,-1.6M516.5,78.6v3.2M515.1,79.4l2.8,1.6M515.1,81.0l2.8,-1.6M517.4,75.8v3.2M516.0,76.6l2.8,1.6M516.0,78.2l2.8,-1.6M518.3,73.8v3.2M516.9,74.6l2.8,1.6M516.9,76.2l2.8,-1.6M519.3,72.0v3.2M517.9,72.8l2.8,1.6M517.9,74.4l2.8,-1.6M520.2,70.4v3.2M518.8,71.2l2.8,1.6M518.8,72.8l2.8,-1.6M521.1,69.3v3.2M519.7,70.1l2.8,1.6M519.7,71.7l2.8,-1.6M522.1,68.4v3.2M520.7,69.2l2.8,1.6M520.7,70.8l2.8,-1.6M523.0,67.6v3.2M521.6,68.4l2.8,1.6M521.6,70.0l2.8,-1.6M524.0,67.0v3.2M522.6,67.8l2.8,1.6M522.6,69.4l2.8,-1.6M524.9,66.5v3.2M523.5,67.3l2.8,1.6M523.5,68.9l2.8,-1.6M525.8,66.1v3.2M524.4,66.9l2.8,1.6M524.4,68.5l2.8,-1.6M526.8,65.7v3.2M525.4,66.5l2.8,1.6M525.4,68.1l2.8,-1.6M527.7,65.5v3.2M526.3,66.3l2.8,1.6M526.3,67.9l2.8,-1.6M528.6,65.4v3.2M527.2,66.2l2.8,1.6M527.2,67.8l2.8,-1.6M529.6,65.5v3.2M528.2,66.3l2.8,1.6M528.2,67.9l2.8,-1.6M530.5,65.7v3.2M529.1,66.5l2.8,1.6M529.1,68.1l2.8,-1.6M531.4,66.1v3.2M530.0,66.9l2.8,1.6M530.0,68.5l2.8,-1.6M532.4,66.6v3.2M531.0,67.4l2.8,1.6M531.0,69.0l2.8,-1.6M533.3,67.2v3.2M531.9,68.0l2.8,1.6M531.9,69.6l2.8,-1.6M534.2,68.0v3.2M532.8,68.8l2.8,1.6M532.8,70.4l2.8,-1.6M535.2,68.7v3.2M533.8,69.5l2.8,1.6M533.8,71.1l2.8,-1.6M536.1,69.5v3.2M534.7,70.3l2.8,1.6M534.7,71.9l2.8,-1.6M537.1,70.3v3.2M535.7,71.1l2.8,1.6M535.7,72.7l2.8,-1.6M538.0,71.2v3.2M536.6,72.0l2.8,1.6M536.6,73.6l2.8,-1.6M538.9,72.1v3.2M537.5,72.9l2.8,1.6M537.5,74.5l2.8,-1.6M539.9,73.0v3.2M538.5,73.8l2.8,1.6M538.5,75.4l2.8,-1.6M540.8,73.8v3.2M539.4,74.6l2.8,1.6M539.4,76.2l2.8,-1.6M541.7,74.5v3.2M540.3,75.3l2.8,1.6M540.3,76.9l2.8,-1.6M542.7,75.3v3.2M541.3,76.1l2.8,1.6M541.3,77.7l2.8,-1.6M543.6,76.1v3.2M542.2,76.9l2.8,1.6M542.2,78.5l2.8,-1.6M544.5,76.9v3.2M543.1,77.7l2.8,1.6M543.1,79.3l2.8,-1.6M545.5,77.9v3.2M544.1,78.7l2.8,1.6M544.1,80.3l2.8,-1.6M546.4,79.0v3.2M545.0,79.8l2.8,1.6M545.0,81.4l2.8,-1.6M547.4,80.2v3.2M546.0,81.0l2.8,1.6M546.0,82.6l2.8,-1.6M548.3,81.4v3.2M546.9,82.2l2.8,1.6M546.9,83.8l2.8,-1.6M549.2,82.5v3.2M547.8,83.3l2.8,1.6M547.8,84.9l2.8,-1.6M550.2,83.6v3.2M548.8,84.4l2.8,1.6M548.8,86.0l2.8,-1.6M551.1,84.7v3.2M549.7,85.5l2.8,1.6M549.7,87.1l2.8,-1.6M552.0,85.9v3.2M550.6,86.7l2.8,1.6M550.6,88.3l2.8,-1.6M553.0,87.1v3.2M551.6,87.9l2.8,1.6M551.6,89.5l2.8,-1.6M553.9,88.0v3.2M552.5,88.8l2.8,1.6M552.5,90.4l2.8,-1.6M554.8,88.5v3.2M553.4,89.3l2.8,1.6M553.4,90.9l2.8,-1.6M555.8,88.5v3.2M554.4,89.3l2.8,1.6M554.4,90.9l2.8,-1.6M556.7,87.7v3.2M555.3,88.5l2.8,1.6M555.3,90.1l2.8,-1.6M557.6,86.3v3.2M556.2,87.1l2.8,1.6M556.2,88.7l2.8,-1.6M558.6,84.7v3.2M557.2,85.5l2.8,1.6M557.2,87.1l2.8,-1.6M559.5,83.1v3.2M558.1,83.9l2.8,1.6M558.1,85.5l2.8,-1.6M560.5,81.8v3.2M559.1,82.6l2.8,1.6M559.1,84.2l2.8,-1.6M561.4,80.6v3.2M560.0,81.4l2.8,1.6M560.0,83.0l2.8,-1.6M562.3,79.3v3.2M560.9,80.1l2.8,1.6M560.9,81.7l2.8,-1.6M563.3,78.2v3.2M561.9,79.0l2.8,1.6M561.9,80.6l2.8,-1.6M564.2,77.1v3.2M562.8,77.9l2.8,1.6M562.8,79.5l2.8,-1.6M565.1,76.3v3.2M563.7,77.1l2.8,1.6M563.7,78.7l2.8,-1.6M566.1,75.6v3.2M564.7,76.4l2.8,1.6M564.7,78.0l2.8,-1.6M567.0,74.9v3.2M565.6,75.7l2.8,1.6M565.6,77.3l2.8,-1.6M567.9,74.5v3.2M566.5,75.3l2.8,1.6M566.5,76.9l2.8,-1.6M568.9,74.1v3.2M567.5,74.9l2.8,1.6M567.5,76.5l2.8,-1.6M569.8,74.0v3.2M568.4,74.8l2.8,1.6M568.4,76.4l2.8,-1.6M570.8,74.1v3.2M569.4,74.9l2.8,1.6M569.4,76.5l2.8,-1.6M571.7,74.4v3.2M570.3,75.2l2.8,1.6M570.3,76.8l2.8,-1.6M572.6,75.0v3.2M571.2,75.8l2.8,1.6M571.2,77.4l2.8,-1.6M573.6,75.9v3.2M572.2,76.7l2.8,1.6M572.2,78.3l2.8,-1.6M574.5,77.1v3.2M573.1,77.9l2.8,1.6M573.1,79.5l2.8,-1.6M575.4,78.6v3.2M574.0,79.4l2.8,1.6M574.0,81.0l2.8,-1.6M576.4,80.3v3.2M575.0,81.1l2.8,1.6M575.0,82.7l2.8,-1.6M577.3,82.3v3.2M575.9,83.1l2.8,1.6M575.9,84.7l2.8,-1.6M578.2,84.4v3.2M576.8,85.2l2.8,1.6M576.8,86.8l2.8,-1.6M579.2,86.8v3.2M577.8,87.6l2.8,1.6M577.8,89.2l2.8,-1.6M580.1,89.7v3.2M578.7,90.5l2.8,1.6M578.7,92.1l2.8,-1.6M581.0,92.5v3.2M579.6,93.3l2.8,1.6M579.6,94.9l2.8,-1.6M582.0,95.6v3.2M580.6,96.4l2.8,1.6M580.6,98.0l2.8,-1.6M582.9,98.8v3.2M581.5,99.6l2.8,1.6M581.5,101.2l2.8,-1.6M583.9,101.0v3.2M582.5,101.8l2.8,1.6M582.5,103.4l2.8,-1.6M584.8,101.1v3.2M583.4,101.9l2.8,1.6M583.4,103.5l2.8,-1.6M585.7,98.6v3.2M584.3,99.4l2.8,1.6M584.3,101.0l2.8,-1.6M586.7,95.3v3.2M585.3,96.1l2.8,1.6M585.3,97.7l2.8,-1.6M587.6,92.9v3.2M586.2,93.7l2.8,1.6M586.2,95.3l2.8,-1.6M588.5,90.6v3.2M587.1,91.4l2.8,1.6M587.1,93.0l2.8,-1.6M589.5,88.3v3.2M588.1,89.1l2.8,1.6M588.1,90.7l2.8,-1.6M590.4,86.1v3.2M589.0,86.9l2.8,1.6M589.0,88.5l2.8,-1.6M591.3,84.2v3.2M589.9,85.0l2.8,1.6M589.9,86.6l2.8,-1.6M592.3,82.7v3.2M590.9,83.5l2.8,1.6M590.9,85.1l2.8,-1.6M593.2,81.8v3.2M591.8,82.6l2.8,1.6M591.8,84.2l2.8,-1.6M594.2,81.3v3.2M592.8,82.1l2.8,1.6M592.8,83.7l2.8,-1.6M595.1,80.9v3.2M593.7,81.7l2.8,1.6M593.7,83.3l2.8,-1.6M596.0,80.5v3.2M594.6,81.3l2.8,1.6M594.6,82.9l2.8,-1.6M597.0,80.4v3.2M595.6,81.2l2.8,1.6M595.6,82.8l2.8,-1.6M597.9,80.6v3.2M596.5,81.4l2.8,1.6M596.5,83.0l2.8,-1.6M598.8,80.9v3.2M597.4,81.7l2.8,1.6M597.4,83.3l2.8,-1.6M599.8,81.3v3.2M598.4,82.1l2.8,1.6M598.4,83.7l2.8,-1.6M600.7,81.8v3.2M599.3,82.6l2.8,1.6M599.3,84.2l2.8,-1.6M601.6,82.4v3.2M600.2,83.2l2.8,1.6M600.2,84.8l2.8,-1.6M602.6,83.1v3.2M601.2,83.9l2.8,1.6M601.2,85.5l2.8,-1.6M603.5,83.8v3.2M602.1,84.6l2.8,1.6M602.1,86.2l2.8,-1.6M604.4,84.8v3.2M603.0,85.6l2.8,1.6M603.0,87.2l2.8,-1.6M605.4,85.8v3.2M604.0,86.6l2.8,1.6M604.0,88.2l2.8,-1.6M606.3,86.8v3.2M604.9,87.6l2.8,1.6M604.9,89.2l2.8,-1.6M607.3,87.7v3.2M605.9,88.5l2.8,1.6M605.9,90.1l2.8,-1.6M608.2,88.3v3.2M606.8,89.1l2.8,1.6M606.8,90.7l2.8,-1.6M609.1,88.8v3.2M607.7,89.6l2.8,1.6M607.7,91.2l2.8,-1.6M610.1,89.2v3.2M608.7,90.0l2.8,1.6M608.7,91.6l2.8,-1.6M611.0,89.6v3.2M609.6,90.4l2.8,1.6M609.6,92.0l2.8,-1.6M611.9,89.9v3.2M610.5,90.7l2.8,1.6M610.5,92.3l2.8,-1.6M612.9,90.3v3.2M611.5,91.1l2.8,1.6M611.5,92.7l2.8,-1.6M613.8,90.8v3.2M612.4,91.6l2.8,1.6M612.4,93.2l2.8,-1.6M614.7,91.3v3.2M613.3,92.1l2.8,1.6M613.3,93.7l2.8,-1.6M615.7,91.8v3.2M614.3,92.6l2.8,1.6M614.3,94.2l2.8,-1.6M616.6,92.2v3.2M615.2,93.0l2.8,1.6M615.2,94.6l2.8,-1.6M617.6,92.7v3.2M616.2,93.5l2.8,1.6M616.2,95.1l2.8,-1.6M618.5,93.1v3.2M617.1,93.9l2.8,1.6M617.1,95.5l2.8,-1.6M619.4,93.7v3.2M618.0,94.5l2.8,1.6M618.0,96.1l2.8,-1.6M620.4,94.2v3.2M619.0,95.0l2.8,1.6M619.0,96.6l2.8,-1.6M621.3,94.7v3.2M619.9,95.5l2.8,1.6M619.9,97.1l2.8,-1.6M622.2,94.9v3.2M620.8,95.7l2.8,1.6M620.8,97.3l2.8,-1.6M623.2,94.8v3.2M621.8,95.6l2.8,1.6M621.8,97.2l2.8,-1.6M624.1,94.1v3.2M622.7,94.9l2.8,1.6M622.7,96.5l2.8,-1.6M625.0,92.8v3.2M623.6,93.6l2.8,1.6M623.6,95.2l2.8,-1.6M626.0,91.4v3.2M624.6,92.2l2.8,1.6M624.6,93.8l2.8,-1.6M626.9,89.9v3.2M625.5,90.7l2.8,1.6M625.5,92.3l2.8,-1.6M627.8,88.2v3.2M626.4,89.0l2.8,1.6M626.4,90.6l2.8,-1.6M628.8,86.5v3.2M627.4,87.3l2.8,1.6M627.4,88.9l2.8,-1.6M629.7,84.8v3.2M628.3,85.6l2.8,1.6M628.3,87.2l2.8,-1.6M630.7,83.5v3.2M629.3,84.3l2.8,1.6M629.3,85.9l2.8,-1.6M631.6,82.2v3.2M630.2,83.0l2.8,1.6M630.2,84.6l2.8,-1.6M632.5,81.2v3.2M631.1,82.0l2.8,1.6M631.1,83.6l2.8,-1.6M633.5,80.2v3.2M632.1,81.0l2.8,1.6M632.1,82.6l2.8,-1.6M634.4,79.4v3.2M633.0,80.2l2.8,1.6M633.0,81.8l2.8,-1.6M635.3,78.6v3.2M633.9,79.4l2.8,1.6M633.9,81.0l2.8,-1.6M636.3,77.9v3.2M634.9,78.7l2.8,1.6M634.9,80.3l2.8,-1.6M637.2,77.3v3.2M635.8,78.1l2.8,1.6M635.8,79.7l2.8,-1.6M638.1,76.8v3.2M636.7,77.6l2.8,1.6M636.7,79.2l2.8,-1.6M639.1,76.5v3.2M637.7,77.3l2.8,1.6M637.7,78.9l2.8,-1.6M640.0,76.3v3.2M638.6,77.1l2.8,1.6M638.6,78.7l2.8,-1.6M641.0,76.2v3.2M639.6,77.0l2.8,1.6M639.6,78.6l2.8,-1.6M641.9,76.1v3.2M640.5,76.9l2.8,1.6M640.5,78.5l2.8,-1.6M642.8,76.2v3.2M641.4,77.0l2.8,1.6M641.4,78.6l2.8,-1.6M643.8,76.4v3.2M642.4,77.2l2.8,1.6M642.4,78.8l2.8,-1.6M644.7,76.7v3.2M643.3,77.5l2.8,1.6M643.3,79.1l2.8,-1.6M645.6,77.1v3.2M644.2,77.9l2.8,1.6M644.2,79.5l2.8,-1.6M646.6,77.6v3.2M645.2,78.4l2.8,1.6M645.2,80.0l2.8,-1.6M647.5,78.3v3.2M646.1,79.1l2.8,1.6M646.1,80.7l2.8,-1.6M648.4,79.0v3.2M647.0,79.8l2.8,1.6M647.0,81.4l2.8,-1.6M649.4,79.8v3.2M648.0,80.6l2.8,1.6M648.0,82.2l2.8,-1.6M650.3,80.7v3.2M648.9,81.5l2.8,1.6M648.9,83.1l2.8,-1.6M651.2,81.7v3.2M649.8,82.5l2.8,1.6M649.8,84.1l2.8,-1.6M652.2,82.6v3.2M650.8,83.4l2.8,1.6M650.8,85.0l2.8,-1.6M653.1,83.6v3.2M651.7,84.4l2.8,1.6M651.7,86.0l2.8,-1.6M654.1,84.7v3.2M652.7,85.5l2.8,1.6M652.7,87.1l2.8,-1.6M655.0,85.7v3.2M653.6,86.5l2.8,1.6M653.6,88.1l2.8,-1.6M655.9,86.5v3.2M654.5,87.3l2.8,1.6M654.5,88.9l2.8,-1.6M656.9,87.0v3.2M655.5,87.8l2.8,1.6M655.5,89.4l2.8,-1.6M657.8,87.2v3.2M656.4,88.0l2.8,1.6M656.4,89.6l2.8,-1.6M658.7,87.4v3.2M657.3,88.2l2.8,1.6M657.3,89.8l2.8,-1.6M659.7,87.4v3.2M658.3,88.2l2.8,1.6M658.3,89.8l2.8,-1.6M660.6,87.4v3.2M659.2,88.2l2.8,1.6M659.2,89.8l2.8,-1.6M661.5,87.4v3.2M660.1,88.2l2.8,1.6M660.1,89.8l2.8,-1.6M662.5,87.2v3.2M661.1,88.0l2.8,1.6M661.1,89.6l2.8,-1.6M663.4,87.0v3.2M662.0,87.8l2.8,1.6M662.0,89.4l2.8,-1.6M664.4,86.8v3.2M663.0,87.6l2.8,1.6M663.0,89.2l2.8,-1.6M665.3,86.6v3.2M663.9,87.4l2.8,1.6M663.9,89.0l2.8,-1.6M666.2,86.6v3.2M664.8,87.4l2.8,1.6M664.8,89.0l2.8,-1.6M667.2,86.7v3.2M665.8,87.5l2.8,1.6M665.8,89.1l2.8,-1.6M668.1,86.9v3.2M666.7,87.7l2.8,1.6M666.7,89.3l2.8,-1.6M669.0,87.2v3.2M667.6,88.0l2.8,1.6M667.6,89.6l2.8,-1.6M670.0,87.7v3.2M668.6,88.5l2.8,1.6M668.6,90.1l2.8,-1.6M670.9,88.3v3.2M669.5,89.1l2.8,1.6M669.5,90.7l2.8,-1.6M671.8,89.1v3.2M670.4,89.9l2.8,1.6M670.4,91.5l2.8,-1.6M672.8,90.0v3.2M671.4,90.8l2.8,1.6M671.4,92.4l2.8,-1.6M673.7,91.0v3.2M672.3,91.8l2.8,1.6M672.3,93.4l2.8,-1.6M674.6,92.0v3.2M673.2,92.8l2.8,1.6M673.2,94.4l2.8,-1.6M675.6,93.2v3.2M674.2,94.0l2.8,1.6M674.2,95.6l2.8,-1.6M676.5,94.5v3.2M675.1,95.3l2.8,1.6M675.1,96.9l2.8,-1.6M677.5,96.0v3.2M676.1,96.8l2.8,1.6M676.1,98.4l2.8,-1.6M678.4,97.7v3.2M677.0,98.5l2.8,1.6M677.0,100.1l2.8,-1.6M679.3,99.7v3.2M677.9,100.5l2.8,1.6M677.9,102.1l2.8,-1.6M680.3,101.7v3.2M678.9,102.5l2.8,1.6M678.9,104.1l2.8,-1.6" stroke="#d4d4d4" stroke-width="0.6" fill="none"/>
<path d="M400.40,71.60 L401.34,176.81 L402.27,155.00 L403.21,178.44 L404.14,166.00 L405.08,135.00 L406.02,180.38 L406.95,180.73 L407.89,87.80 L408.82,147.00 L409.76,162.00 L410.70,184.46 L411.63,188.94 L412.57,193.24 L413.50,197.41 L414.44,200.10 L415.38,202.78 L416.31,202.79 L417.25,200.58 L418.18,197.99 L419.12,193.87 L420.06,188.47 L420.99,155.00 L421.93,181.51 L422.86,85.10 L423.80,95.40 L424.74,172.00 L425.67,189.78 L426.61,196.17 L427.54,203.32 L428.48,209.62 L429.42,215.11 L430.35,220.54 L431.29,224.79 L432.22,229.05 L433.16,232.68 L434.10,236.06 L435.03,238.08 L435.97,236.00 L436.90,233.91 L437.84,229.21 L438.78,224.20 L439.71,216.79 L440.65,206.08 L441.58,194.19 L442.52,187.14 L443.46,111.30 L444.39,79.90 L445.33,169.40 L446.26,190.58 L447.20,192.02 L448.14,193.93 L449.07,195.84 L450.01,84.60 L450.94,158.40 L451.88,164.00 L452.82,209.62 L453.75,214.93 L454.69,220.23 L455.62,225.12 L456.56,229.80 L457.50,234.02 L458.43,237.26 L459.37,245.00 L460.30,246.50 L461.24,240.00 L462.18,232.00 L463.11,227.00 L464.05,222.70 L464.98,211.00 L465.92,200.00 L466.86,188.00 L467.79,180.00 L468.73,174.60 L469.66,58.10 L470.60,223.80 L471.54,192.00 L472.47,190.60 L473.41,197.00 L474.34,200.30 L475.28,195.00 L476.22,187.00 L477.15,178.00 L478.09,165.00 L479.02,145.70 L479.96,53.00 L480.90,221.60 L481.83,220.00 L482.77,225.00 L483.70,220.00 L484.64,213.00 L485.58,201.00 L486.51,182.00 L487.45,56.00 L488.38,127.30 L489.32,153.80 L490.26,172.00 L491.19,190.60 L492.13,197.00 L493.06,202.40 L494.00,206.70 L494.94,208.80 L495.87,211.00 L496.81,213.00 L497.74,171.80 L498.68,225.60 L499.62,61.20 L500.55,76.40 L501.49,180.00 L502.42,190.00 L503.36,200.00 L504.30,207.00 L505.23,211.00 L506.17,214.00 L507.10,215.00 L508.04,215.50 L508.98,216.00 L509.91,216.50 L510.85,218.00 L511.78,219.69 L512.72,221.47 L513.66,224.62 L514.59,228.37 L515.53,231.32 L516.46,233.66 L517.40,236.00 L518.34,235.29 L519.27,232.32 L520.21,228.44 L521.14,221.42 L522.08,214.54 L523.02,209.19 L523.95,203.83 L524.89,198.89 L525.82,194.51 L526.76,190.13 L527.70,186.31 L528.63,157.20 L529.57,109.30 L530.50,125.00 L531.44,175.70 L532.38,191.63 L533.31,192.74 L534.25,193.85 L535.18,192.84 L536.12,188.80 L537.06,165.30 L537.99,172.60 L538.93,149.20 L539.86,90.70 L540.80,169.90 L541.74,171.65 L542.67,178.20 L543.61,184.65 L544.54,190.29 L545.48,196.37 L546.42,199.25 L547.35,197.37 L548.29,193.06 L549.22,187.66 L550.16,182.04 L551.10,175.83 L552.03,169.28 L552.97,162.72 L553.90,156.17 L554.84,151.32 L555.78,111.40 L556.71,121.70 L557.65,178.33 L558.58,186.67 L559.52,194.02 L560.46,195.78 L561.39,200.46 L562.33,202.37 L563.26,203.91 L564.20,203.20 L565.14,201.73 L566.07,201.71 L567.01,203.11 L567.94,205.22 L568.88,211.01 L569.82,214.67 L570.75,218.33 L571.69,221.76 L572.62,225.10 L573.56,227.88 L574.50,230.07 L575.43,232.27 L576.37,234.45 L577.30,236.55 L578.24,238.65 L579.18,240.75 L580.11,242.50 L581.05,243.98 L581.98,244.53 L582.92,242.97 L583.86,241.11 L584.79,238.77 L585.73,235.98 L586.66,233.12 L587.60,230.15 L588.54,227.12 L589.47,224.08 L590.41,220.94 L591.34,216.93 L592.28,212.93 L593.22,208.60 L594.15,203.86 L595.09,199.83 L596.02,196.21 L596.96,192.08 L597.90,186.61 L598.83,146.00 L599.77,135.00 L600.70,163.60 L601.64,168.80 L602.58,201.28 L603.51,202.71 L604.45,204.15 L605.38,205.90 L606.32,89.20 L607.26,172.30 L608.19,234.90 L609.13,213.03 L610.06,213.89 L611.00,214.74 L611.94,214.77 L612.87,213.86 L613.81,212.95 L614.74,212.03 L615.68,211.12 L616.62,212.49 L617.55,213.90 L618.49,215.32 L619.42,216.73 L620.36,215.44 L621.30,212.34 L622.23,209.23 L623.17,174.00 L624.10,202.99 L625.04,114.00 L625.98,154.30 L626.91,199.86 L627.85,199.79 L628.78,199.72 L629.72,197.19 L630.66,193.39 L631.59,190.20 L632.53,187.35 L633.46,230.80 L634.40,111.40 L635.34,123.20 L636.27,164.57 L637.21,170.61 L638.14,177.04 L639.08,180.74 L640.02,183.53 L640.95,185.17 L641.89,186.80 L642.82,187.55 L643.76,187.53 L644.70,185.85 L645.63,182.98 L646.57,179.37 L647.50,173.47 L648.44,165.89 L649.38,159.01 L650.31,147.60 L651.25,102.30 L652.18,162.81 L653.12,172.78 L654.06,181.16 L654.99,188.83 L655.93,194.75 L656.86,198.31 L657.80,201.73 L658.74,205.25 L659.67,208.77 L660.61,211.58 L661.54,214.01 L662.48,216.45 L663.42,218.88 L664.35,219.41 L665.29,216.79 L666.22,214.17 L667.16,211.22 L668.10,206.67 L669.03,202.12 L669.97,197.57 L670.90,194.99 L671.84,196.51 L672.78,167.80 L673.71,155.30 L674.65,170.00 L675.58,203.59 L676.52,205.71 L677.46,207.83 L678.39,209.95 L679.33,209.86 L680.26,207.14" fill="none" stroke="#72ae96" stroke-width="0.9" stroke-linejoin="round"/>
<path d="M398.8,69.9L402.3,71.6L398.8,73.3ZM399.7,175.1L403.2,176.8L399.7,178.5ZM400.7,153.3L404.2,155.0L400.7,156.7ZM401.6,176.7L405.1,178.4L401.6,180.1ZM402.5,164.3L406.0,166.0L402.5,167.7ZM403.5,133.3L407.0,135.0L403.5,136.7ZM404.4,178.7L407.9,180.4L404.4,182.1ZM405.4,179.0L408.9,180.7L405.4,182.4ZM406.3,86.1L409.8,87.8L406.3,89.5ZM407.2,145.3L410.7,147.0L407.2,148.7ZM408.2,160.3L411.7,162.0L408.2,163.7ZM409.1,182.8L412.6,184.5L409.1,186.2ZM410.0,187.2L413.5,188.9L410.0,190.6ZM411.0,191.5L414.5,193.2L411.0,194.9ZM411.9,195.7L415.4,197.4L411.9,199.1ZM412.8,198.4L416.3,200.1L412.8,201.8ZM413.8,201.1L417.3,202.8L413.8,204.5ZM414.7,201.1L418.2,202.8L414.7,204.5ZM415.6,198.9L419.1,200.6L415.6,202.3ZM416.6,196.3L420.1,198.0L416.6,199.7ZM417.5,192.2L421.0,193.9L417.5,195.6ZM418.5,186.8L422.0,188.5L418.5,190.2ZM419.4,153.3L422.9,155.0L419.4,156.7ZM420.3,179.8L423.8,181.5L420.3,183.2ZM421.3,83.4L424.8,85.1L421.3,86.8ZM422.2,93.7L425.7,95.4L422.2,97.1ZM423.1,170.3L426.6,172.0L423.1,173.7ZM424.1,188.1L427.6,189.8L424.1,191.5ZM425.0,194.5L428.5,196.2L425.0,197.9ZM425.9,201.6L429.4,203.3L425.9,205.0ZM426.9,207.9L430.4,209.6L426.9,211.3ZM427.8,213.4L431.3,215.1L427.8,216.8ZM428.8,218.8L432.3,220.5L428.8,222.2ZM429.7,223.1L433.2,224.8L429.7,226.5ZM430.6,227.3L434.1,229.0L430.6,230.7ZM431.6,231.0L435.1,232.7L431.6,234.4ZM432.5,234.4L436.0,236.1L432.5,237.8ZM433.4,236.4L436.9,238.1L433.4,239.8ZM434.4,234.3L437.9,236.0L434.4,237.7ZM435.3,232.2L438.8,233.9L435.3,235.6ZM436.2,227.5L439.7,229.2L436.2,230.9ZM437.2,222.5L440.7,224.2L437.2,225.9ZM438.1,215.1L441.6,216.8L438.1,218.5ZM439.0,204.4L442.5,206.1L439.0,207.8ZM440.0,192.5L443.5,194.2L440.0,195.9ZM440.9,185.4L444.4,187.1L440.9,188.8ZM441.9,109.6L445.4,111.3L441.9,113.0ZM442.8,78.2L446.3,79.9L442.8,81.6ZM443.7,167.7L447.2,169.4L443.7,171.1ZM444.7,188.9L448.2,190.6L444.7,192.3ZM445.6,190.3L449.1,192.0L445.6,193.7ZM446.5,192.2L450.0,193.9L446.5,195.6ZM447.5,194.1L451.0,195.8L447.5,197.5ZM448.4,82.9L451.9,84.6L448.4,86.3ZM449.3,156.7L452.8,158.4L449.3,160.1ZM450.3,162.3L453.8,164.0L450.3,165.7ZM451.2,207.9L454.7,209.6L451.2,211.3ZM452.2,213.2L455.7,214.9L452.2,216.6ZM453.1,218.5L456.6,220.2L453.1,221.9ZM454.0,223.4L457.5,225.1L454.0,226.8ZM455.0,228.1L458.5,229.8L455.0,231.5ZM455.9,232.3L459.4,234.0L455.9,235.7ZM456.8,235.6L460.3,237.3L456.8,239.0ZM457.8,243.3L461.3,245.0L457.8,246.7ZM458.7,244.8L462.2,246.5L458.7,248.2ZM459.6,238.3L463.1,240.0L459.6,241.7ZM460.6,230.3L464.1,232.0L460.6,233.7ZM461.5,225.3L465.0,227.0L461.5,228.7ZM462.4,221.0L465.9,222.7L462.4,224.4ZM463.4,209.3L466.9,211.0L463.4,212.7ZM464.3,198.3L467.8,200.0L464.3,201.7ZM465.3,186.3L468.8,188.0L465.3,189.7ZM466.2,178.3L469.7,180.0L466.2,181.7ZM467.1,172.9L470.6,174.6L467.1,176.3ZM468.1,56.4L471.6,58.1L468.1,59.8ZM469.0,222.1L472.5,223.8L469.0,225.5ZM469.9,190.3L473.4,192.0L469.9,193.7ZM470.9,188.9L474.4,190.6L470.9,192.3ZM471.8,195.3L475.3,197.0L471.8,198.7ZM472.7,198.6L476.2,200.3L472.7,202.0ZM473.7,193.3L477.2,195.0L473.7,196.7ZM474.6,185.3L478.1,187.0L474.6,188.7ZM475.6,176.3L479.1,178.0L475.6,179.7ZM476.5,163.3L480.0,165.0L476.5,166.7ZM477.4,144.0L480.9,145.7L477.4,147.4ZM478.4,51.3L481.9,53.0L478.4,54.7ZM479.3,219.9L482.8,221.6L479.3,223.3ZM480.2,218.3L483.7,220.0L480.2,221.7ZM481.2,223.3L484.7,225.0L481.2,226.7ZM482.1,218.3L485.6,220.0L482.1,221.7ZM483.0,211.3L486.5,213.0L483.0,214.7ZM484.0,199.3L487.5,201.0L484.0,202.7ZM484.9,180.3L488.4,182.0L484.9,183.7ZM485.8,54.3L489.3,56.0L485.8,57.7ZM486.8,125.6L490.3,127.3L486.8,129.0ZM487.7,152.1L491.2,153.8L487.7,155.5ZM488.7,170.3L492.2,172.0L488.7,173.7ZM489.6,188.9L493.1,190.6L489.6,192.3ZM490.5,195.3L494.0,197.0L490.5,198.7ZM491.5,200.7L495.0,202.4L491.5,204.1ZM492.4,205.0L495.9,206.7L492.4,208.4ZM493.3,207.1L496.8,208.8L493.3,210.5ZM494.3,209.3L497.8,211.0L494.3,212.7ZM495.2,211.3L498.7,213.0L495.2,214.7ZM496.1,170.1L499.6,171.8L496.1,173.5ZM497.1,223.9L500.6,225.6L497.1,227.3ZM498.0,59.5L501.5,61.2L498.0,62.9ZM499.0,74.7L502.5,76.4L499.0,78.1ZM499.9,178.3L503.4,180.0L499.9,181.7ZM500.8,188.3L504.3,190.0L500.8,191.7ZM501.8,198.3L505.3,200.0L501.8,201.7ZM502.7,205.3L506.2,207.0L502.7,208.7ZM503.6,209.3L507.1,211.0L503.6,212.7ZM504.6,212.3L508.1,214.0L504.6,215.7ZM505.5,213.3L509.0,215.0L505.5,216.7ZM506.4,213.8L509.9,215.5L506.4,217.2ZM507.4,214.3L510.9,216.0L507.4,217.7ZM508.3,214.8L511.8,216.5L508.3,218.2ZM509.2,216.3L512.7,218.0L509.2,219.7ZM510.2,218.0L513.7,219.7L510.2,221.4ZM511.1,219.8L514.6,221.5L511.1,223.2ZM512.1,222.9L515.6,224.6L512.1,226.3ZM513.0,226.7L516.5,228.4L513.0,230.1ZM513.9,229.6L517.4,231.3L513.9,233.0ZM514.9,232.0L518.4,233.7L514.9,235.4ZM515.8,234.3L519.3,236.0L515.8,237.7ZM516.7,233.6L520.2,235.3L516.7,237.0ZM517.7,230.6L521.2,232.3L517.7,234.0ZM518.6,226.7L522.1,228.4L518.6,230.1ZM519.5,219.7L523.0,221.4L519.5,223.1ZM520.5,212.8L524.0,214.5L520.5,216.2ZM521.4,207.5L524.9,209.2L521.4,210.9ZM522.4,202.1L525.9,203.8L522.4,205.5ZM523.3,197.2L526.8,198.9L523.3,200.6ZM524.2,192.8L527.7,194.5L524.2,196.2ZM525.2,188.4L528.7,190.1L525.2,191.8ZM526.1,184.6L529.6,186.3L526.1,188.0ZM527.0,155.5L530.5,157.2L527.0,158.9ZM528.0,107.6L531.5,109.3L528.0,111.0ZM528.9,123.3L532.4,125.0L528.9,126.7ZM529.8,174.0L533.3,175.7L529.8,177.4ZM530.8,189.9L534.3,191.6L530.8,193.3ZM531.7,191.0L535.2,192.7L531.7,194.4ZM532.6,192.1L536.1,193.8L532.6,195.5ZM533.6,191.1L537.1,192.8L533.6,194.5ZM534.5,187.1L538.0,188.8L534.5,190.5ZM535.5,163.6L539.0,165.3L535.5,167.0ZM536.4,170.9L539.9,172.6L536.4,174.3ZM537.3,147.5L540.8,149.2L537.3,150.9ZM538.3,89.0L541.8,90.7L538.3,92.4ZM539.2,168.2L542.7,169.9L539.2,171.6ZM540.1,170.0L543.6,171.7L540.1,173.4ZM541.1,176.5L544.6,178.2L541.1,179.9ZM542.0,182.9L545.5,184.6L542.0,186.3ZM542.9,188.6L546.4,190.3L542.9,192.0ZM543.9,194.7L547.4,196.4L543.9,198.1ZM544.8,197.5L548.3,199.2L544.8,200.9ZM545.8,195.7L549.3,197.4L545.8,199.1ZM546.7,191.4L550.2,193.1L546.7,194.8ZM547.6,186.0L551.1,187.7L547.6,189.4ZM548.6,180.3L552.1,182.0L548.6,183.7ZM549.5,174.1L553.0,175.8L549.5,177.5ZM550.4,167.6L553.9,169.3L550.4,171.0ZM551.4,161.0L554.9,162.7L551.4,164.4ZM552.3,154.5L555.8,156.2L552.3,157.9ZM553.2,149.6L556.7,151.3L553.2,153.0ZM554.2,109.7L557.7,111.4L554.2,113.1ZM555.1,120.0L558.6,121.7L555.1,123.4ZM556.0,176.6L559.5,178.3L556.0,180.0ZM557.0,185.0L560.5,186.7L557.0,188.4ZM557.9,192.3L561.4,194.0L557.9,195.7ZM558.9,194.1L562.4,195.8L558.9,197.5ZM559.8,198.8L563.3,200.5L559.8,202.2ZM560.7,200.7L564.2,202.4L560.7,204.1ZM561.7,202.2L565.2,203.9L561.7,205.6ZM562.6,201.5L566.1,203.2L562.6,204.9ZM563.5,200.0L567.0,201.7L563.5,203.4ZM564.5,200.0L568.0,201.7L564.5,203.4ZM565.4,201.4L568.9,203.1L565.4,204.8ZM566.3,203.5L569.8,205.2L566.3,206.9ZM567.3,209.3L570.8,211.0L567.3,212.7ZM568.2,213.0L571.7,214.7L568.2,216.4ZM569.2,216.6L572.7,218.3L569.2,220.0ZM570.1,220.1L573.6,221.8L570.1,223.5ZM571.0,223.4L574.5,225.1L571.0,226.8ZM572.0,226.2L575.5,227.9L572.0,229.6ZM572.9,228.4L576.4,230.1L572.9,231.8ZM573.8,230.6L577.3,232.3L573.8,234.0ZM574.8,232.8L578.3,234.5L574.8,236.2ZM575.7,234.9L579.2,236.6L575.7,238.3ZM576.6,237.0L580.1,238.7L576.6,240.4ZM577.6,239.0L581.1,240.7L577.6,242.4ZM578.5,240.8L582.0,242.5L578.5,244.2ZM579.4,242.3L582.9,244.0L579.4,245.7ZM580.4,242.8L583.9,244.5L580.4,246.2ZM581.3,241.3L584.8,243.0L581.3,244.7ZM582.3,239.4L585.8,241.1L582.3,242.8ZM583.2,237.1L586.7,238.8L583.2,240.5ZM584.1,234.3L587.6,236.0L584.1,237.7ZM585.1,231.4L588.6,233.1L585.1,234.8ZM586.0,228.5L589.5,230.2L586.0,231.9ZM586.9,225.4L590.4,227.1L586.9,228.8ZM587.9,222.4L591.4,224.1L587.9,225.8ZM588.8,219.2L592.3,220.9L588.8,222.6ZM589.7,215.2L593.2,216.9L589.7,218.6ZM590.7,211.2L594.2,212.9L590.7,214.6ZM591.6,206.9L595.1,208.6L591.6,210.3ZM592.6,202.2L596.1,203.9L592.6,205.6ZM593.5,198.1L597.0,199.8L593.5,201.5ZM594.4,194.5L597.9,196.2L594.4,197.9ZM595.4,190.4L598.9,192.1L595.4,193.8ZM596.3,184.9L599.8,186.6L596.3,188.3ZM597.2,144.3L600.7,146.0L597.2,147.7ZM598.2,133.3L601.7,135.0L598.2,136.7ZM599.1,161.9L602.6,163.6L599.1,165.3ZM600.0,167.1L603.5,168.8L600.0,170.5ZM601.0,199.6L604.5,201.3L601.0,203.0ZM601.9,201.0L605.4,202.7L601.9,204.4ZM602.8,202.5L606.3,204.2L602.8,205.9ZM603.8,204.2L607.3,205.9L603.8,207.6ZM604.7,87.5L608.2,89.2L604.7,90.9ZM605.7,170.6L609.2,172.3L605.7,174.0ZM606.6,233.2L610.1,234.9L606.6,236.6ZM607.5,211.3L611.0,213.0L607.5,214.7ZM608.5,212.2L612.0,213.9L608.5,215.6ZM609.4,213.0L612.9,214.7L609.4,216.4ZM610.3,213.1L613.8,214.8L610.3,216.5ZM611.3,212.2L614.8,213.9L611.3,215.6ZM612.2,211.2L615.7,212.9L612.2,214.6ZM613.1,210.3L616.6,212.0L613.1,213.7ZM614.1,209.4L617.6,211.1L614.1,212.8ZM615.0,210.8L618.5,212.5L615.0,214.2ZM616.0,212.2L619.5,213.9L616.0,215.6ZM616.9,213.6L620.4,215.3L616.9,217.0ZM617.8,215.0L621.3,216.7L617.8,218.4ZM618.8,213.7L622.3,215.4L618.8,217.1ZM619.7,210.6L623.2,212.3L619.7,214.0ZM620.6,207.5L624.1,209.2L620.6,210.9ZM621.6,172.3L625.1,174.0L621.6,175.7ZM622.5,201.3L626.0,203.0L622.5,204.7ZM623.4,112.3L626.9,114.0L623.4,115.7ZM624.4,152.6L627.9,154.3L624.4,156.0ZM625.3,198.2L628.8,199.9L625.3,201.6ZM626.2,198.1L629.7,199.8L626.2,201.5ZM627.2,198.0L630.7,199.7L627.2,201.4ZM628.1,195.5L631.6,197.2L628.1,198.9ZM629.1,191.7L632.6,193.4L629.1,195.1ZM630.0,188.5L633.5,190.2L630.0,191.9ZM630.9,185.6L634.4,187.3L630.9,189.0ZM631.9,229.1L635.4,230.8L631.9,232.5ZM632.8,109.7L636.3,111.4L632.8,113.1ZM633.7,121.5L637.2,123.2L633.7,124.9ZM634.7,162.9L638.2,164.6L634.7,166.3ZM635.6,168.9L639.1,170.6L635.6,172.3ZM636.5,175.3L640.0,177.0L636.5,178.7ZM637.5,179.0L641.0,180.7L637.5,182.4ZM638.4,181.8L641.9,183.5L638.4,185.2ZM639.4,183.5L642.9,185.2L639.4,186.9ZM640.3,185.1L643.8,186.8L640.3,188.5ZM641.2,185.8L644.7,187.5L641.2,189.2ZM642.2,185.8L645.7,187.5L642.2,189.2ZM643.1,184.1L646.6,185.8L643.1,187.5ZM644.0,181.3L647.5,183.0L644.0,184.7ZM645.0,177.7L648.5,179.4L645.0,181.1ZM645.9,171.8L649.4,173.5L645.9,175.2ZM646.8,164.2L650.3,165.9L646.8,167.6ZM647.8,157.3L651.3,159.0L647.8,160.7ZM648.7,145.9L652.2,147.6L648.7,149.3ZM649.6,100.6L653.1,102.3L649.6,104.0ZM650.6,161.1L654.1,162.8L650.6,164.5ZM651.5,171.1L655.0,172.8L651.5,174.5ZM652.5,179.5L656.0,181.2L652.5,182.9ZM653.4,187.1L656.9,188.8L653.4,190.5ZM654.3,193.0L657.8,194.7L654.3,196.4ZM655.3,196.6L658.8,198.3L655.3,200.0ZM656.2,200.0L659.7,201.7L656.2,203.4ZM657.1,203.5L660.6,205.2L657.1,206.9ZM658.1,207.1L661.6,208.8L658.1,210.5ZM659.0,209.9L662.5,211.6L659.0,213.3ZM659.9,212.3L663.4,214.0L659.9,215.7ZM660.9,214.7L664.4,216.4L660.9,218.1ZM661.8,217.2L665.3,218.9L661.8,220.6ZM662.8,217.7L666.3,219.4L662.8,221.1ZM663.7,215.1L667.2,216.8L663.7,218.5ZM664.6,212.5L668.1,214.2L664.6,215.9ZM665.6,209.5L669.1,211.2L665.6,212.9ZM666.5,205.0L670.0,206.7L666.5,208.4ZM667.4,200.4L670.9,202.1L667.4,203.8ZM668.4,195.9L671.9,197.6L668.4,199.3ZM669.3,193.3L672.8,195.0L669.3,196.7ZM670.2,194.8L673.7,196.5L670.2,198.2ZM671.2,166.1L674.7,167.8L671.2,169.5ZM672.1,153.6L675.6,155.3L672.1,157.0ZM673.0,168.3L676.5,170.0L673.0,171.7ZM674.0,201.9L677.5,203.6L674.0,205.3ZM674.9,204.0L678.4,205.7L674.9,207.4ZM675.9,206.1L679.4,207.8L675.9,209.5ZM676.8,208.2L680.3,209.9L676.8,211.6ZM677.7,208.2L681.2,209.9L677.7,211.6ZM678.7,205.4L682.2,207.1L678.7,208.8Z" fill="#3d8864"/>
<path d="M400.40,180.10 L401.10,179.43 L401.80,178.76 L402.50,178.25 L403.20,177.94 L403.90,177.68 L404.60,177.48 L405.30,177.34 L406.00,177.28 L406.70,177.31 L407.40,177.40 L408.10,177.53 L408.80,177.71 L409.50,177.94 L410.20,178.21 L410.90,178.52 L411.60,178.89 L412.30,179.30 L413.00,179.77 L413.70,180.28 L414.40,180.83 L415.10,181.41 L415.80,182.01 L416.50,182.62 L417.20,183.25 L417.90,183.87 L418.60,184.54 L419.30,185.25 L420.00,185.97 L420.70,186.70 L421.40,187.42 L422.10,188.11 L422.80,188.83 L423.50,189.66 L424.20,190.42 L424.90,190.96 L425.60,191.10 L426.30,190.75 L427.00,190.03 L427.70,189.08 L428.40,188.06 L429.10,187.10 L429.80,186.18 L430.50,185.21 L431.20,184.20 L431.90,183.19 L432.60,182.20 L433.30,181.27 L434.00,180.43 L434.70,179.69 L435.40,179.05 L436.10,178.44 L436.80,177.86 L437.50,177.32 L438.20,176.83 L438.90,176.41 L439.60,176.05 L440.30,175.78 L441.00,175.59 L441.70,175.50 L442.40,175.58 L443.10,175.86 L443.80,176.31 L444.50,176.91 L445.20,177.62 L445.90,178.40 L446.60,179.25 L447.30,180.30 L448.00,181.56 L448.70,182.95 L449.40,184.44 L450.10,185.97 L450.80,187.74 L451.50,190.00 L452.20,193.34 L453.60,244.00 L454.60,196.00 L455.30,194.47 L456.00,191.19 L456.70,186.64 L457.40,183.19 L458.10,180.40 L458.80,177.96 L459.50,175.75 L460.20,173.82 L460.90,172.20 L461.60,170.89 L462.30,169.79 L463.00,168.85 L463.70,167.98 L464.40,167.15 L465.10,166.37 L465.80,165.62 L466.50,164.91 L467.20,164.23 L467.90,163.59 L468.60,162.99 L469.30,162.46 L470.00,162.01 L470.70,161.64 L471.40,161.34 L472.10,161.09 L472.80,160.88 L473.50,160.70 L474.20,160.53 L474.90,160.36 L475.60,160.18 L476.40,52.30 L476.90,160.50 L477.60,160.67 L478.30,160.84 L479.00,161.00 L479.70,161.17 L480.40,161.35 L481.10,161.53 L481.80,161.73 L482.50,161.96 L483.20,162.19 L483.90,162.39 L484.60,162.54 L485.30,162.63 L486.00,162.67 L486.70,162.67 L487.40,162.65 L488.10,162.62 L488.80,162.57 L489.50,162.53 L490.20,162.49 L490.90,162.45 L491.60,162.39 L492.30,162.33 L493.00,162.27 L493.70,162.21 L494.30,52.30 L494.80,162.20 L495.50,162.29 L496.20,162.36 L496.90,162.42 L497.60,162.48 L498.30,162.55 L499.00,162.63 L499.70,162.73 L500.40,162.87 L501.10,163.04 L501.80,163.27 L502.50,163.58 L503.20,163.97 L503.90,164.42 L504.60,164.92 L505.30,165.45 L506.00,166.00 L506.70,166.54 L507.40,167.09 L508.10,167.69 L508.80,168.36 L509.50,169.15 L510.20,170.09 L510.90,171.27 L511.60,172.72 L512.30,174.45 L513.00,176.62 L513.70,179.55 L514.40,183.18 L515.10,187.51 L515.80,191.83 L516.50,196.15 L517.80,205.00 L518.80,198.00 L519.50,195.50 L520.20,193.53 L520.90,191.96 L521.60,190.52 L522.30,189.20 L523.00,188.00 L523.70,186.88 L524.40,185.84 L525.10,184.89 L525.80,184.07 L526.50,183.40 L527.20,182.92 L527.90,182.61 L528.60,182.47 L529.30,182.47 L530.00,182.57 L530.70,182.77 L531.40,183.04 L532.10,183.37 L532.80,183.75 L533.50,184.18 L534.20,184.63 L534.90,185.09 L535.60,185.56 L536.30,186.05 L537.00,186.56 L537.70,187.11 L538.40,187.71 L539.10,188.36 L539.80,189.08 L540.50,189.94 L541.20,191.08 L541.90,192.35 L542.60,193.61 L543.30,194.73 L544.00,195.67 L544.70,196.63 L545.40,197.52 L546.10,198.23 L546.80,198.65 L547.50,198.65 L548.20,198.14 L548.90,197.25 L549.60,196.15 L550.30,195.01 L551.00,194.00 L551.70,193.12 L552.40,192.25 L553.10,191.39 L553.80,190.51 L554.50,189.62 L555.20,188.70 L555.90,187.74 L556.60,186.71 L557.30,185.63 L558.00,184.56 L558.70,183.53 L559.40,182.57 L560.10,181.73 L560.80,180.99 L561.50,180.35 L562.20,179.83 L562.90,179.46 L563.60,179.22 L564.30,179.10 L565.00,179.11 L565.70,179.22 L566.40,179.42 L567.10,179.65 L567.80,179.90 L568.50,180.20 L569.20,180.57 L569.90,181.01 L570.60,181.55 L571.30,182.20 L572.00,183.05 L572.70,184.07 L573.40,185.22 L574.10,186.43 L574.80,187.65 L575.50,188.88 L576.20,190.19 L576.90,191.63 L577.60,193.24 L578.30,195.00 L579.00,196.91 L579.70,199.02 L580.40,201.37 L581.10,204.02 L581.80,207.05 L582.50,210.75 L583.20,215.15 L584.90,233.50 L586.50,220.00 L587.20,215.50 L587.90,211.45 L588.60,208.69 L589.30,206.44 L590.00,204.43 L590.70,202.41 L591.40,200.39 L592.10,198.49 L592.80,196.82 L593.50,195.36 L594.20,194.03 L594.90,192.83 L595.60,191.80 L596.30,190.96 L597.00,190.32 L597.70,189.84 L598.40,189.51 L599.10,189.30 L599.80,189.20 L600.50,189.19 L601.20,189.26 L601.90,189.41 L602.60,189.64 L603.30,189.94 L604.00,190.33 L604.70,190.82 L605.40,191.43 L606.10,192.17 L606.80,193.08 L607.50,194.25 L608.20,195.54 L608.90,196.82 L609.60,198.05 L610.30,199.29 L611.00,200.54 L611.70,201.79 L612.80,201.63 L613.50,200.75 L614.20,199.90 L614.90,199.11 L615.60,198.40 L616.30,197.76 L617.00,197.14 L617.70,196.53 L618.40,195.89 L619.10,195.19 L619.80,194.41 L620.50,193.58 L621.20,192.76 L621.90,191.99 L622.60,191.32 L623.30,190.78 L624.00,190.30 L624.70,189.85 L625.40,189.45 L626.10,189.08 L626.80,188.74 L627.50,188.44 L628.20,188.18 L628.90,187.96 L629.60,187.80 L630.30,187.76 L631.00,187.82 L631.70,187.94 L632.40,188.09 L633.10,188.22 L633.80,188.34 L634.50,188.48 L635.20,188.63 L635.90,188.81 L636.60,189.02 L637.30,189.26 L638.00,189.54 L638.70,189.85 L639.40,190.17 L640.10,190.52 L640.80,190.87 L641.50,191.24 L642.20,191.60 L642.90,191.95 L643.60,192.29 L644.30,192.61 L645.00,192.91 L645.70,193.22 L646.40,193.53 L647.10,193.85 L647.80,194.21 L648.50,194.59 L649.20,195.02 L649.90,195.50 L650.60,196.04 L651.30,196.65 L652.00,197.36 L652.70,198.17 L653.40,199.10 L654.10,200.16 L654.80,201.50 L655.50,203.09 L656.20,204.81 L656.90,206.53 L657.60,208.14 L658.30,209.70 L659.00,211.33 L659.70,213.14 L660.40,215.34 L661.10,218.13 L661.80,221.00 L663.80,247.00 L665.80,221.00 L666.50,213.20 L667.20,209.67 L667.90,206.78 L668.60,204.32 L669.30,202.05 L670.00,200.07 L670.70,198.38 L671.40,196.96 L672.10,195.79 L672.80,194.82 L673.50,194.00 L674.20,193.28 L674.90,192.60 L675.60,191.97 L676.30,191.45 L677.00,190.99 L677.70,190.54 L678.40,190.05 L679.10,189.58 L679.80,189.11 L680.50,188.64" fill="none" stroke="#1c1cc4" stroke-width="1.7" stroke-linejoin="round"/>
<path d="M475.30,38.40L475.30,43.60M477.55,39.70L473.05,42.30M477.55,42.30L473.05,39.70" stroke="#ee4050" stroke-width="1.3" fill="none"/><circle cx="475.3" cy="41" r="1.2" fill="#ee4050"/>
<path d="M495.80,38.40L495.80,43.60M498.05,39.70L493.55,42.30M498.05,42.30L493.55,39.70" stroke="#ee4050" stroke-width="1.3" fill="none"/><circle cx="495.8" cy="41" r="1.2" fill="#ee4050"/>
<rect x="400.4" y="4.5" width="280.6" height="243.7" fill="none" stroke="#7a7a7a" stroke-width="1.1"/>
<path d="M400.9,4.52h3M680.5,4.52h-3M400.9,49.60h3M680.5,49.60h-3M400.9,94.68h3M680.5,94.68h-3M400.9,139.76h3M680.5,139.76h-3M400.9,184.84h3M680.5,184.84h-3M400.9,229.92h3M680.5,229.92h-3M400.40,247.7v-3M400.40,5v3M447.16,247.7v-3M447.16,5v3M493.93,247.7v-3M493.93,5v3M540.69,247.7v-3M540.69,5v3M587.46,247.7v-3M587.46,5v3M634.22,247.7v-3M634.22,5v3M680.99,247.7v-3M680.99,5v3" stroke="#555" stroke-width="0.9" fill="none"/>
<g font-family="Liberation Sans, sans-serif" font-size="8.6" fill="#111"><text x="398.3" y="7.12" text-anchor="end">50</text><text x="398.3" y="52.20" text-anchor="end">0</text><text x="398.3" y="97.28" text-anchor="end">-50</text><text x="398.3" y="142.36" text-anchor="end">-100</text><text x="398.3" y="187.44" text-anchor="end">-150</text><text x="398.3" y="232.52" text-anchor="end">-200</text><text x="399.50" y="257.6" text-anchor="middle">0</text><text x="446.26" y="257.6" text-anchor="middle">5</text><text x="493.03" y="257.6" text-anchor="middle">10</text><text x="539.79" y="257.6" text-anchor="middle">15</text><text x="586.56" y="257.6" text-anchor="middle">20</text><text x="633.32" y="257.6" text-anchor="middle">25</text><text x="680.09" y="257.6" text-anchor="middle">30</text></g>
<text transform="translate(376.4,125.3) rotate(-90)" text-anchor="middle" font-family="Liberation Serif, serif" font-size="10" fill="#111">Amplitude(dB)</text>
<text x="523.4" y="271.9" font-family="Liberation Serif, serif" font-size="10" fill="#111">Angle(<tspan font-size="6.6" dy="-4.4" style="stroke-width:0.05px">o</tspan><tspan dy="4.4">)</tspan></text>
<rect x="594.8" y="8.6" width="83.3" height="52.6" fill="#fff" stroke="#555" stroke-width="1"/>
<path d="M599.8,15.6H622.3" stroke="#1818a0" stroke-width="1.4"/>
<path d="M599.8,28.2H622.3" stroke="#6aa890" stroke-width="0.9"/><path d="M610.2,26.4L614,28.2L610.2,30Z" fill="#3d8864"/>
<path d="M611.5,40.4v4.2M609.8,41.4l3.4,2.2M609.8,43.6l3.4,-2.2" stroke="#dcdcdc" stroke-width="0.9"/>
<path d="M612.00,52.00L612.00,57.20M614.25,53.30L609.75,55.90M614.25,55.90L609.75,53.30" stroke="#ee4050" stroke-width="1.3" fill="none"/><circle cx="612" cy="54.6" r="1.2" fill="#ee4050"/>
<g class="lg" font-family="Liberation Serif, serif" font-size="10" fill="#111"><text x="625.4" y="19.7">MMP</text><text x="625.4" y="32.6">BPDN</text><text x="625.4" y="45.8">DBF</text><text x="625.4" y="58.6">Target angle</text></g>
<g class="cap" font-family="Liberation Serif, serif" font-size="17.5" fill="#1a1a1a"><text x="161.9" y="298.9">(a) SNR=40dB</text><text x="481" y="298.9">(b) SNR=5dB</text></g>
</svg>
</body></html>
